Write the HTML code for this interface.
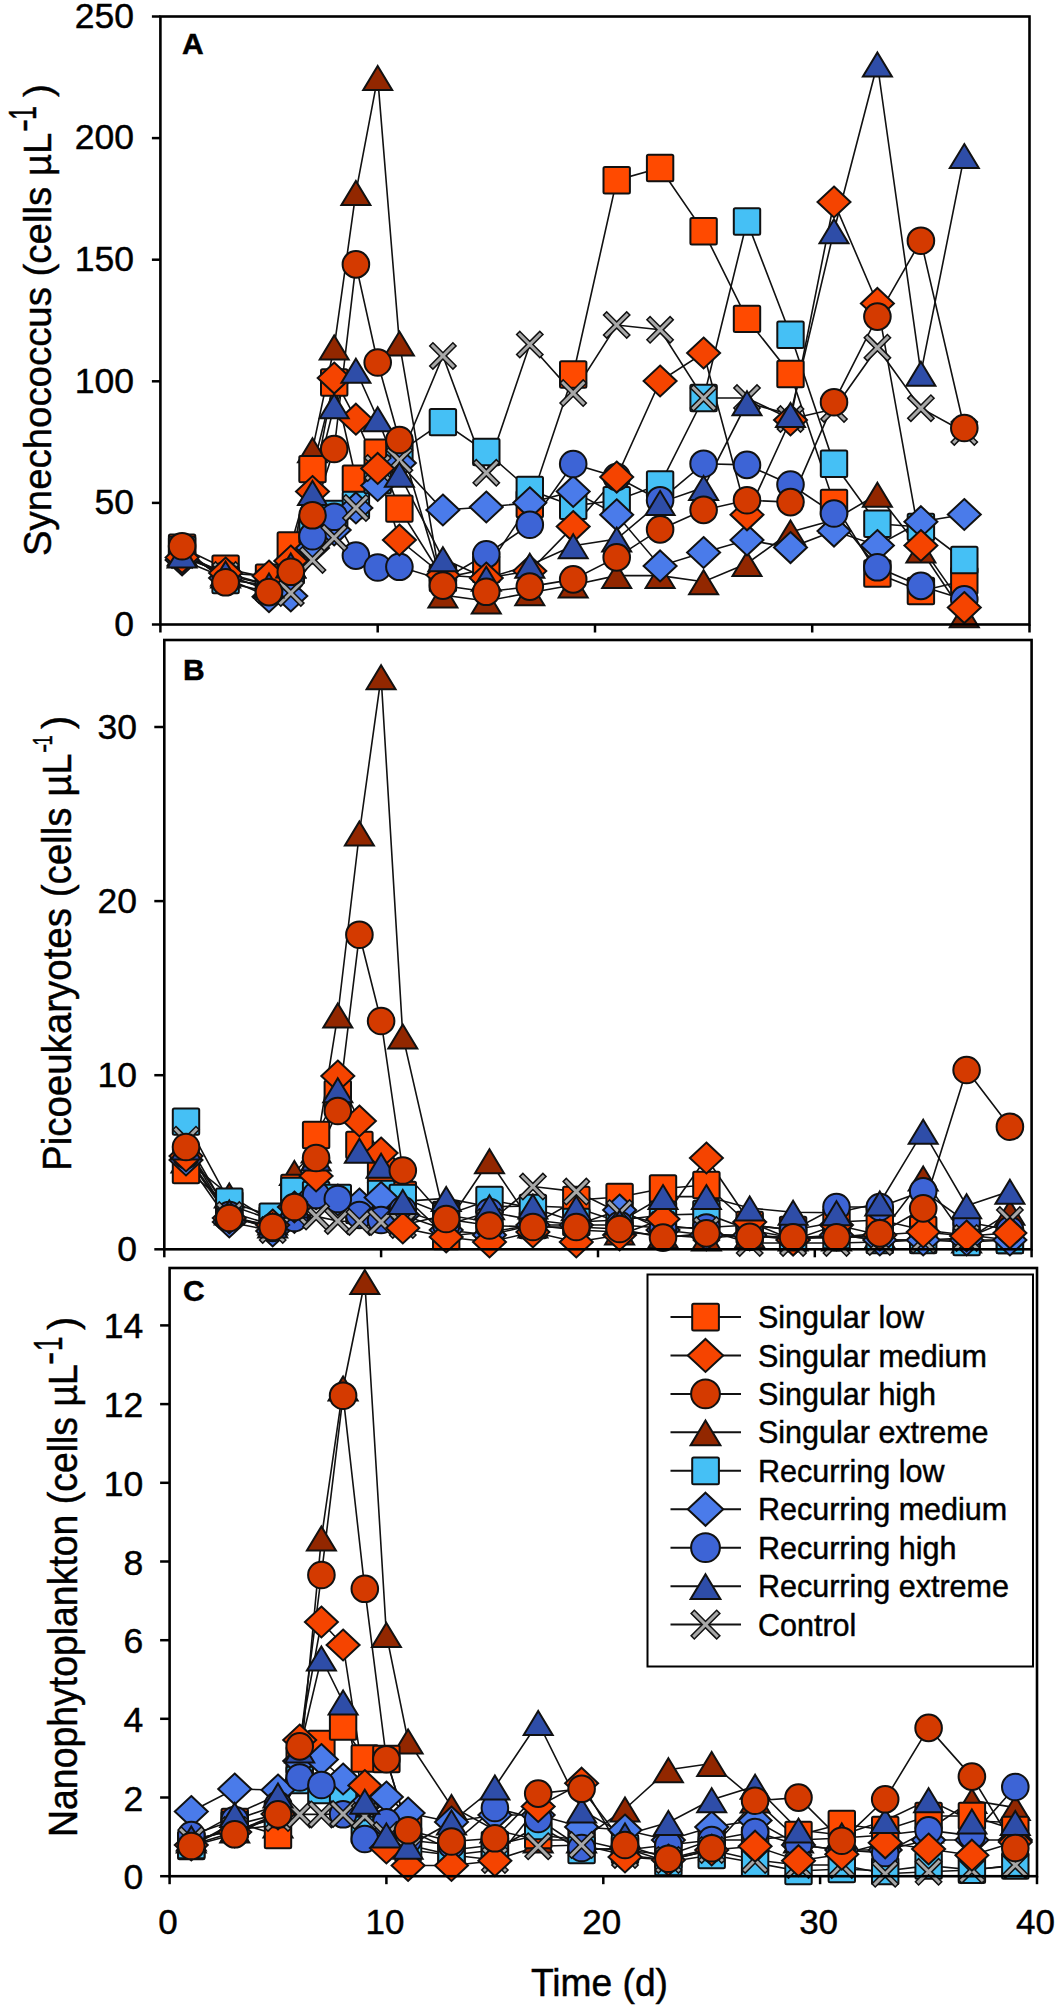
<!DOCTYPE html><html><head><meta charset="utf-8"><style>html,body{margin:0;padding:0;background:#fff;}body{width:1063px;height:2013px;position:relative;overflow:hidden;}</style></head><body><svg width="1063" height="2013" viewBox="0 0 1063 2013" style="position:absolute;left:0;top:0">
<path d="M182.1 553.0 L225.6 575.0 L269.0 585.0 L290.8 565.0 L312.5 449.7 L334.2 347.0 L355.9 192.4 L377.7 77.4 L399.4 343.1 L442.9 595.0 L486.3 601.0 L529.8 592.8 L573.2 585.0 L616.7 575.6 L660.1 575.6 L703.6 581.7 L747.0 563.5 L790.5 532.0 L834.0 520.0 L877.4 494.2 L920.9 550.0 L964.3 614.8" fill="none" stroke="#111" stroke-width="1.6"/>
<path d="M182.1 547.7 L225.6 568.8 L269.0 577.8 L290.8 545.5 L312.5 469.1 L334.2 382.5 L355.9 478.8 L377.7 452.8 L399.4 508.6 L442.9 578.0 L486.3 569.0 L529.8 504.0 L573.2 374.5 L616.7 180.2 L660.1 168.0 L703.6 231.3 L747.0 318.9 L790.5 374.0 L834.0 503.0 L877.4 573.5 L920.9 591.0 L964.3 580.7" fill="none" stroke="#111" stroke-width="1.6"/>
<path d="M182.1 550.0 L225.6 580.0 L269.0 585.0 L290.8 570.0 L312.5 530.0 L334.2 514.0 L355.9 505.0 L377.7 480.0 L399.4 452.0 L442.9 422.1 L486.3 452.0 L529.8 490.0 L573.2 505.9 L616.7 500.2 L660.1 484.4 L703.6 398.0 L747.0 221.5 L790.5 334.7 L834.0 463.8 L877.4 523.8 L920.9 527.0 L964.3 560.0" fill="none" stroke="#111" stroke-width="1.6"/>
<path d="M182.1 560.0 L225.6 578.0 L269.0 596.7 L290.8 595.9 L312.5 548.0 L334.2 530.0 L355.9 507.9 L377.7 485.5 L399.4 463.0 L442.9 510.0 L486.3 507.0 L529.8 502.8 L573.2 491.4 L616.7 514.8 L660.1 565.9 L703.6 552.5 L747.0 540.0 L790.5 547.6 L834.0 531.1 L877.4 545.5 L920.9 521.7 L964.3 514.5" fill="none" stroke="#111" stroke-width="1.6"/>
<path d="M182.1 555.0 L225.6 575.0 L269.0 590.0 L290.8 578.0 L312.5 536.2 L334.2 516.8 L355.9 555.6 L377.7 567.5 L399.4 566.8 L442.9 580.0 L486.3 554.3 L529.8 524.7 L573.2 464.0 L616.7 477.0 L660.1 500.2 L703.6 463.7 L747.0 464.9 L790.5 484.5 L834.0 513.5 L877.4 567.3 L920.9 585.9 L964.3 599.4" fill="none" stroke="#111" stroke-width="1.6"/>
<path d="M182.1 555.0 L225.6 575.0 L269.0 590.0 L290.8 593.0 L312.5 560.0 L334.2 537.7 L355.9 507.9 L377.7 468.0 L399.4 460.2 L442.9 355.9 L486.3 472.8 L529.8 344.5 L573.2 393.1 L616.7 325.0 L660.1 329.8 L703.6 398.0 L747.0 398.0 L790.5 419.0 L834.0 409.0 L877.4 347.7 L920.9 408.2 L964.3 432.0" fill="none" stroke="#111" stroke-width="1.6"/>
<path d="M182.1 557.6 L225.6 573.0 L269.0 576.0 L290.8 561.0 L312.5 491.5 L334.2 378.1 L355.9 419.2 L377.7 468.4 L399.4 540.0 L442.9 575.0 L486.3 578.0 L529.8 571.0 L573.2 526.6 L616.7 477.1 L660.1 381.0 L703.6 353.0 L747.0 514.8 L790.5 420.0 L834.0 202.0 L877.4 303.4 L920.9 545.5 L964.3 607.6" fill="none" stroke="#111" stroke-width="1.6"/>
<path d="M182.1 555.0 L225.6 573.0 L269.0 585.0 L290.8 565.0 L312.5 492.5 L334.2 405.7 L355.9 370.2 L377.7 418.7 L399.4 474.3 L442.9 558.7 L486.3 578.3 L529.8 565.3 L573.2 545.7 L616.7 539.1 L660.1 502.6 L703.6 487.5 L747.0 402.8 L790.5 414.5 L834.0 230.7 L877.4 64.0 L920.9 373.2 L964.3 155.6" fill="none" stroke="#111" stroke-width="1.6"/>
<path d="M182.1 546.2 L225.6 582.3 L269.0 592.1 L290.8 571.8 L312.5 515.3 L334.2 449.0 L355.9 264.4 L377.7 362.5 L399.4 440.0 L442.9 585.6 L486.3 591.8 L529.8 586.6 L573.2 579.4 L616.7 557.4 L660.1 529.4 L703.6 509.9 L747.0 500.2 L790.5 502.1 L834.0 402.2 L877.4 316.6 L920.9 240.7 L964.3 428.0" fill="none" stroke="#111" stroke-width="1.6"/>
<path d="M182.1 541.5L196.6 565.5L167.6 565.5Z" fill="#922700" stroke="#111" stroke-width="2" stroke-linejoin="miter"/>
<path d="M225.6 563.5L240.1 587.5L211.1 587.5Z" fill="#922700" stroke="#111" stroke-width="2" stroke-linejoin="miter"/>
<path d="M269.0 573.5L283.5 597.5L254.5 597.5Z" fill="#922700" stroke="#111" stroke-width="2" stroke-linejoin="miter"/>
<path d="M290.8 553.5L305.3 577.5L276.3 577.5Z" fill="#922700" stroke="#111" stroke-width="2" stroke-linejoin="miter"/>
<path d="M312.5 438.2L327.0 462.2L298.0 462.2Z" fill="#922700" stroke="#111" stroke-width="2" stroke-linejoin="miter"/>
<path d="M334.2 335.5L348.7 359.5L319.7 359.5Z" fill="#922700" stroke="#111" stroke-width="2" stroke-linejoin="miter"/>
<path d="M355.9 180.9L370.4 204.9L341.4 204.9Z" fill="#922700" stroke="#111" stroke-width="2" stroke-linejoin="miter"/>
<path d="M377.7 65.9L392.2 89.9L363.2 89.9Z" fill="#922700" stroke="#111" stroke-width="2" stroke-linejoin="miter"/>
<path d="M399.4 331.6L413.9 355.6L384.9 355.6Z" fill="#922700" stroke="#111" stroke-width="2" stroke-linejoin="miter"/>
<path d="M442.9 583.5L457.4 607.5L428.4 607.5Z" fill="#922700" stroke="#111" stroke-width="2" stroke-linejoin="miter"/>
<path d="M486.3 589.5L500.8 613.5L471.8 613.5Z" fill="#922700" stroke="#111" stroke-width="2" stroke-linejoin="miter"/>
<path d="M529.8 581.3L544.3 605.3L515.3 605.3Z" fill="#922700" stroke="#111" stroke-width="2" stroke-linejoin="miter"/>
<path d="M573.2 573.5L587.7 597.5L558.7 597.5Z" fill="#922700" stroke="#111" stroke-width="2" stroke-linejoin="miter"/>
<path d="M616.7 564.1L631.2 588.1L602.2 588.1Z" fill="#922700" stroke="#111" stroke-width="2" stroke-linejoin="miter"/>
<path d="M660.1 564.1L674.6 588.1L645.6 588.1Z" fill="#922700" stroke="#111" stroke-width="2" stroke-linejoin="miter"/>
<path d="M703.6 570.2L718.1 594.2L689.1 594.2Z" fill="#922700" stroke="#111" stroke-width="2" stroke-linejoin="miter"/>
<path d="M747.0 552.0L761.5 576.0L732.5 576.0Z" fill="#922700" stroke="#111" stroke-width="2" stroke-linejoin="miter"/>
<path d="M790.5 520.5L805.0 544.5L776.0 544.5Z" fill="#922700" stroke="#111" stroke-width="2" stroke-linejoin="miter"/>
<path d="M834.0 508.5L848.5 532.5L819.5 532.5Z" fill="#922700" stroke="#111" stroke-width="2" stroke-linejoin="miter"/>
<path d="M877.4 482.7L891.9 506.7L862.9 506.7Z" fill="#922700" stroke="#111" stroke-width="2" stroke-linejoin="miter"/>
<path d="M920.9 538.5L935.4 562.5L906.4 562.5Z" fill="#922700" stroke="#111" stroke-width="2" stroke-linejoin="miter"/>
<path d="M964.3 603.3L978.8 627.3L949.8 627.3Z" fill="#922700" stroke="#111" stroke-width="2" stroke-linejoin="miter"/>
<rect x="168.9" y="534.5" width="26.4" height="26.4" rx="1.5" fill="#FF4A00" stroke="#111" stroke-width="2"/>
<rect x="212.4" y="555.6" width="26.4" height="26.4" rx="1.5" fill="#FF4A00" stroke="#111" stroke-width="2"/>
<rect x="255.8" y="564.6" width="26.4" height="26.4" rx="1.5" fill="#FF4A00" stroke="#111" stroke-width="2"/>
<rect x="277.6" y="532.3" width="26.4" height="26.4" rx="1.5" fill="#FF4A00" stroke="#111" stroke-width="2"/>
<rect x="299.3" y="455.9" width="26.4" height="26.4" rx="1.5" fill="#FF4A00" stroke="#111" stroke-width="2"/>
<rect x="321.0" y="369.3" width="26.4" height="26.4" rx="1.5" fill="#FF4A00" stroke="#111" stroke-width="2"/>
<rect x="342.7" y="465.6" width="26.4" height="26.4" rx="1.5" fill="#FF4A00" stroke="#111" stroke-width="2"/>
<rect x="364.5" y="439.6" width="26.4" height="26.4" rx="1.5" fill="#FF4A00" stroke="#111" stroke-width="2"/>
<rect x="386.2" y="495.4" width="26.4" height="26.4" rx="1.5" fill="#FF4A00" stroke="#111" stroke-width="2"/>
<rect x="429.7" y="564.8" width="26.4" height="26.4" rx="1.5" fill="#FF4A00" stroke="#111" stroke-width="2"/>
<rect x="473.1" y="555.8" width="26.4" height="26.4" rx="1.5" fill="#FF4A00" stroke="#111" stroke-width="2"/>
<rect x="516.6" y="490.8" width="26.4" height="26.4" rx="1.5" fill="#FF4A00" stroke="#111" stroke-width="2"/>
<rect x="560.0" y="361.3" width="26.4" height="26.4" rx="1.5" fill="#FF4A00" stroke="#111" stroke-width="2"/>
<rect x="603.5" y="167.0" width="26.4" height="26.4" rx="1.5" fill="#FF4A00" stroke="#111" stroke-width="2"/>
<rect x="646.9" y="154.8" width="26.4" height="26.4" rx="1.5" fill="#FF4A00" stroke="#111" stroke-width="2"/>
<rect x="690.4" y="218.1" width="26.4" height="26.4" rx="1.5" fill="#FF4A00" stroke="#111" stroke-width="2"/>
<rect x="733.8" y="305.7" width="26.4" height="26.4" rx="1.5" fill="#FF4A00" stroke="#111" stroke-width="2"/>
<rect x="777.3" y="360.8" width="26.4" height="26.4" rx="1.5" fill="#FF4A00" stroke="#111" stroke-width="2"/>
<rect x="820.8" y="489.8" width="26.4" height="26.4" rx="1.5" fill="#FF4A00" stroke="#111" stroke-width="2"/>
<rect x="864.2" y="560.3" width="26.4" height="26.4" rx="1.5" fill="#FF4A00" stroke="#111" stroke-width="2"/>
<rect x="907.7" y="577.8" width="26.4" height="26.4" rx="1.5" fill="#FF4A00" stroke="#111" stroke-width="2"/>
<rect x="951.1" y="567.5" width="26.4" height="26.4" rx="1.5" fill="#FF4A00" stroke="#111" stroke-width="2"/>
<rect x="168.9" y="536.8" width="26.4" height="26.4" rx="1.5" fill="#45C0F5" stroke="#111" stroke-width="2"/>
<rect x="212.4" y="566.8" width="26.4" height="26.4" rx="1.5" fill="#45C0F5" stroke="#111" stroke-width="2"/>
<rect x="255.8" y="571.8" width="26.4" height="26.4" rx="1.5" fill="#45C0F5" stroke="#111" stroke-width="2"/>
<rect x="277.6" y="556.8" width="26.4" height="26.4" rx="1.5" fill="#45C0F5" stroke="#111" stroke-width="2"/>
<rect x="299.3" y="516.8" width="26.4" height="26.4" rx="1.5" fill="#45C0F5" stroke="#111" stroke-width="2"/>
<rect x="321.0" y="500.8" width="26.4" height="26.4" rx="1.5" fill="#45C0F5" stroke="#111" stroke-width="2"/>
<rect x="342.7" y="491.8" width="26.4" height="26.4" rx="1.5" fill="#45C0F5" stroke="#111" stroke-width="2"/>
<rect x="364.5" y="466.8" width="26.4" height="26.4" rx="1.5" fill="#45C0F5" stroke="#111" stroke-width="2"/>
<rect x="386.2" y="438.8" width="26.4" height="26.4" rx="1.5" fill="#45C0F5" stroke="#111" stroke-width="2"/>
<rect x="429.7" y="408.9" width="26.4" height="26.4" rx="1.5" fill="#45C0F5" stroke="#111" stroke-width="2"/>
<rect x="473.1" y="438.8" width="26.4" height="26.4" rx="1.5" fill="#45C0F5" stroke="#111" stroke-width="2"/>
<rect x="516.6" y="476.8" width="26.4" height="26.4" rx="1.5" fill="#45C0F5" stroke="#111" stroke-width="2"/>
<rect x="560.0" y="492.7" width="26.4" height="26.4" rx="1.5" fill="#45C0F5" stroke="#111" stroke-width="2"/>
<rect x="603.5" y="487.0" width="26.4" height="26.4" rx="1.5" fill="#45C0F5" stroke="#111" stroke-width="2"/>
<rect x="646.9" y="471.2" width="26.4" height="26.4" rx="1.5" fill="#45C0F5" stroke="#111" stroke-width="2"/>
<rect x="690.4" y="384.8" width="26.4" height="26.4" rx="1.5" fill="#45C0F5" stroke="#111" stroke-width="2"/>
<rect x="733.8" y="208.3" width="26.4" height="26.4" rx="1.5" fill="#45C0F5" stroke="#111" stroke-width="2"/>
<rect x="777.3" y="321.5" width="26.4" height="26.4" rx="1.5" fill="#45C0F5" stroke="#111" stroke-width="2"/>
<rect x="820.8" y="450.6" width="26.4" height="26.4" rx="1.5" fill="#45C0F5" stroke="#111" stroke-width="2"/>
<rect x="864.2" y="510.6" width="26.4" height="26.4" rx="1.5" fill="#45C0F5" stroke="#111" stroke-width="2"/>
<rect x="907.7" y="513.8" width="26.4" height="26.4" rx="1.5" fill="#45C0F5" stroke="#111" stroke-width="2"/>
<rect x="951.1" y="546.8" width="26.4" height="26.4" rx="1.5" fill="#45C0F5" stroke="#111" stroke-width="2"/>
<path d="M182.1 544.5L198.6 560.0L182.1 575.5L165.6 560.0Z" fill="#4A7BEA" stroke="#111" stroke-width="2"/>
<path d="M225.6 562.5L242.1 578.0L225.6 593.5L209.1 578.0Z" fill="#4A7BEA" stroke="#111" stroke-width="2"/>
<path d="M269.0 581.2L285.5 596.7L269.0 612.2L252.5 596.7Z" fill="#4A7BEA" stroke="#111" stroke-width="2"/>
<path d="M290.8 580.4L307.3 595.9L290.8 611.4L274.3 595.9Z" fill="#4A7BEA" stroke="#111" stroke-width="2"/>
<path d="M312.5 532.5L329.0 548.0L312.5 563.5L296.0 548.0Z" fill="#4A7BEA" stroke="#111" stroke-width="2"/>
<path d="M334.2 514.5L350.7 530.0L334.2 545.5L317.7 530.0Z" fill="#4A7BEA" stroke="#111" stroke-width="2"/>
<path d="M355.9 492.4L372.4 507.9L355.9 523.4L339.4 507.9Z" fill="#4A7BEA" stroke="#111" stroke-width="2"/>
<path d="M377.7 470.0L394.2 485.5L377.7 501.0L361.2 485.5Z" fill="#4A7BEA" stroke="#111" stroke-width="2"/>
<path d="M399.4 447.5L415.9 463.0L399.4 478.5L382.9 463.0Z" fill="#4A7BEA" stroke="#111" stroke-width="2"/>
<path d="M442.9 494.5L459.4 510.0L442.9 525.5L426.4 510.0Z" fill="#4A7BEA" stroke="#111" stroke-width="2"/>
<path d="M486.3 491.5L502.8 507.0L486.3 522.5L469.8 507.0Z" fill="#4A7BEA" stroke="#111" stroke-width="2"/>
<path d="M529.8 487.3L546.3 502.8L529.8 518.3L513.3 502.8Z" fill="#4A7BEA" stroke="#111" stroke-width="2"/>
<path d="M573.2 475.9L589.7 491.4L573.2 506.9L556.7 491.4Z" fill="#4A7BEA" stroke="#111" stroke-width="2"/>
<path d="M616.7 499.3L633.2 514.8L616.7 530.3L600.2 514.8Z" fill="#4A7BEA" stroke="#111" stroke-width="2"/>
<path d="M660.1 550.4L676.6 565.9L660.1 581.4L643.6 565.9Z" fill="#4A7BEA" stroke="#111" stroke-width="2"/>
<path d="M703.6 537.0L720.1 552.5L703.6 568.0L687.1 552.5Z" fill="#4A7BEA" stroke="#111" stroke-width="2"/>
<path d="M747.0 524.5L763.5 540.0L747.0 555.5L730.5 540.0Z" fill="#4A7BEA" stroke="#111" stroke-width="2"/>
<path d="M790.5 532.1L807.0 547.6L790.5 563.1L774.0 547.6Z" fill="#4A7BEA" stroke="#111" stroke-width="2"/>
<path d="M834.0 515.6L850.5 531.1L834.0 546.6L817.5 531.1Z" fill="#4A7BEA" stroke="#111" stroke-width="2"/>
<path d="M877.4 530.0L893.9 545.5L877.4 561.0L860.9 545.5Z" fill="#4A7BEA" stroke="#111" stroke-width="2"/>
<path d="M920.9 506.2L937.4 521.7L920.9 537.2L904.4 521.7Z" fill="#4A7BEA" stroke="#111" stroke-width="2"/>
<path d="M964.3 499.0L980.8 514.5L964.3 530.0L947.8 514.5Z" fill="#4A7BEA" stroke="#111" stroke-width="2"/>
<circle cx="182.1" cy="555.0" r="13.3" fill="#3D64D6" stroke="#111" stroke-width="2"/>
<circle cx="225.6" cy="575.0" r="13.3" fill="#3D64D6" stroke="#111" stroke-width="2"/>
<circle cx="269.0" cy="590.0" r="13.3" fill="#3D64D6" stroke="#111" stroke-width="2"/>
<circle cx="290.8" cy="578.0" r="13.3" fill="#3D64D6" stroke="#111" stroke-width="2"/>
<circle cx="312.5" cy="536.2" r="13.3" fill="#3D64D6" stroke="#111" stroke-width="2"/>
<circle cx="334.2" cy="516.8" r="13.3" fill="#3D64D6" stroke="#111" stroke-width="2"/>
<circle cx="355.9" cy="555.6" r="13.3" fill="#3D64D6" stroke="#111" stroke-width="2"/>
<circle cx="377.7" cy="567.5" r="13.3" fill="#3D64D6" stroke="#111" stroke-width="2"/>
<circle cx="399.4" cy="566.8" r="13.3" fill="#3D64D6" stroke="#111" stroke-width="2"/>
<circle cx="442.9" cy="580.0" r="13.3" fill="#3D64D6" stroke="#111" stroke-width="2"/>
<circle cx="486.3" cy="554.3" r="13.3" fill="#3D64D6" stroke="#111" stroke-width="2"/>
<circle cx="529.8" cy="524.7" r="13.3" fill="#3D64D6" stroke="#111" stroke-width="2"/>
<circle cx="573.2" cy="464.0" r="13.3" fill="#3D64D6" stroke="#111" stroke-width="2"/>
<circle cx="616.7" cy="477.0" r="13.3" fill="#3D64D6" stroke="#111" stroke-width="2"/>
<circle cx="660.1" cy="500.2" r="13.3" fill="#3D64D6" stroke="#111" stroke-width="2"/>
<circle cx="703.6" cy="463.7" r="13.3" fill="#3D64D6" stroke="#111" stroke-width="2"/>
<circle cx="747.0" cy="464.9" r="13.3" fill="#3D64D6" stroke="#111" stroke-width="2"/>
<circle cx="790.5" cy="484.5" r="13.3" fill="#3D64D6" stroke="#111" stroke-width="2"/>
<circle cx="834.0" cy="513.5" r="13.3" fill="#3D64D6" stroke="#111" stroke-width="2"/>
<circle cx="877.4" cy="567.3" r="13.3" fill="#3D64D6" stroke="#111" stroke-width="2"/>
<circle cx="920.9" cy="585.9" r="13.3" fill="#3D64D6" stroke="#111" stroke-width="2"/>
<circle cx="964.3" cy="599.4" r="13.3" fill="#3D64D6" stroke="#111" stroke-width="2"/>
<path d="M172.1 545.0L192.1 565.0M192.1 545.0L172.1 565.0" stroke="#111" stroke-width="6" stroke-linecap="square"/><path d="M172.1 545.0L192.1 565.0M192.1 545.0L172.1 565.0" stroke="#A8A8A8" stroke-width="3" stroke-linecap="square"/>
<path d="M215.6 565.0L235.6 585.0M235.6 565.0L215.6 585.0" stroke="#111" stroke-width="6" stroke-linecap="square"/><path d="M215.6 565.0L235.6 585.0M235.6 565.0L215.6 585.0" stroke="#A8A8A8" stroke-width="3" stroke-linecap="square"/>
<path d="M259.0 580.0L279.0 600.0M279.0 580.0L259.0 600.0" stroke="#111" stroke-width="6" stroke-linecap="square"/><path d="M259.0 580.0L279.0 600.0M279.0 580.0L259.0 600.0" stroke="#A8A8A8" stroke-width="3" stroke-linecap="square"/>
<path d="M280.8 583.0L300.8 603.0M300.8 583.0L280.8 603.0" stroke="#111" stroke-width="6" stroke-linecap="square"/><path d="M280.8 583.0L300.8 603.0M300.8 583.0L280.8 603.0" stroke="#A8A8A8" stroke-width="3" stroke-linecap="square"/>
<path d="M302.5 550.0L322.5 570.0M322.5 550.0L302.5 570.0" stroke="#111" stroke-width="6" stroke-linecap="square"/><path d="M302.5 550.0L322.5 570.0M322.5 550.0L302.5 570.0" stroke="#A8A8A8" stroke-width="3" stroke-linecap="square"/>
<path d="M324.2 527.7L344.2 547.7M344.2 527.7L324.2 547.7" stroke="#111" stroke-width="6" stroke-linecap="square"/><path d="M324.2 527.7L344.2 547.7M344.2 527.7L324.2 547.7" stroke="#A8A8A8" stroke-width="3" stroke-linecap="square"/>
<path d="M345.9 497.9L365.9 517.9M365.9 497.9L345.9 517.9" stroke="#111" stroke-width="6" stroke-linecap="square"/><path d="M345.9 497.9L365.9 517.9M365.9 497.9L345.9 517.9" stroke="#A8A8A8" stroke-width="3" stroke-linecap="square"/>
<path d="M367.7 458.0L387.7 478.0M387.7 458.0L367.7 478.0" stroke="#111" stroke-width="6" stroke-linecap="square"/><path d="M367.7 458.0L387.7 478.0M387.7 458.0L367.7 478.0" stroke="#A8A8A8" stroke-width="3" stroke-linecap="square"/>
<path d="M389.4 450.2L409.4 470.2M409.4 450.2L389.4 470.2" stroke="#111" stroke-width="6" stroke-linecap="square"/><path d="M389.4 450.2L409.4 470.2M409.4 450.2L389.4 470.2" stroke="#A8A8A8" stroke-width="3" stroke-linecap="square"/>
<path d="M432.9 345.9L452.9 365.9M452.9 345.9L432.9 365.9" stroke="#111" stroke-width="6" stroke-linecap="square"/><path d="M432.9 345.9L452.9 365.9M452.9 345.9L432.9 365.9" stroke="#A8A8A8" stroke-width="3" stroke-linecap="square"/>
<path d="M476.3 462.8L496.3 482.8M496.3 462.8L476.3 482.8" stroke="#111" stroke-width="6" stroke-linecap="square"/><path d="M476.3 462.8L496.3 482.8M496.3 462.8L476.3 482.8" stroke="#A8A8A8" stroke-width="3" stroke-linecap="square"/>
<path d="M519.8 334.5L539.8 354.5M539.8 334.5L519.8 354.5" stroke="#111" stroke-width="6" stroke-linecap="square"/><path d="M519.8 334.5L539.8 354.5M539.8 334.5L519.8 354.5" stroke="#A8A8A8" stroke-width="3" stroke-linecap="square"/>
<path d="M563.2 383.1L583.2 403.1M583.2 383.1L563.2 403.1" stroke="#111" stroke-width="6" stroke-linecap="square"/><path d="M563.2 383.1L583.2 403.1M583.2 383.1L563.2 403.1" stroke="#A8A8A8" stroke-width="3" stroke-linecap="square"/>
<path d="M606.7 315.0L626.7 335.0M626.7 315.0L606.7 335.0" stroke="#111" stroke-width="6" stroke-linecap="square"/><path d="M606.7 315.0L626.7 335.0M626.7 315.0L606.7 335.0" stroke="#A8A8A8" stroke-width="3" stroke-linecap="square"/>
<path d="M650.1 319.8L670.1 339.8M670.1 319.8L650.1 339.8" stroke="#111" stroke-width="6" stroke-linecap="square"/><path d="M650.1 319.8L670.1 339.8M670.1 319.8L650.1 339.8" stroke="#A8A8A8" stroke-width="3" stroke-linecap="square"/>
<path d="M693.6 388.0L713.6 408.0M713.6 388.0L693.6 408.0" stroke="#111" stroke-width="6" stroke-linecap="square"/><path d="M693.6 388.0L713.6 408.0M713.6 388.0L693.6 408.0" stroke="#A8A8A8" stroke-width="3" stroke-linecap="square"/>
<path d="M737.0 388.0L757.0 408.0M757.0 388.0L737.0 408.0" stroke="#111" stroke-width="6" stroke-linecap="square"/><path d="M737.0 388.0L757.0 408.0M757.0 388.0L737.0 408.0" stroke="#A8A8A8" stroke-width="3" stroke-linecap="square"/>
<path d="M780.5 409.0L800.5 429.0M800.5 409.0L780.5 429.0" stroke="#111" stroke-width="6" stroke-linecap="square"/><path d="M780.5 409.0L800.5 429.0M800.5 409.0L780.5 429.0" stroke="#A8A8A8" stroke-width="3" stroke-linecap="square"/>
<path d="M824.0 399.0L844.0 419.0M844.0 399.0L824.0 419.0" stroke="#111" stroke-width="6" stroke-linecap="square"/><path d="M824.0 399.0L844.0 419.0M844.0 399.0L824.0 419.0" stroke="#A8A8A8" stroke-width="3" stroke-linecap="square"/>
<path d="M867.4 337.7L887.4 357.7M887.4 337.7L867.4 357.7" stroke="#111" stroke-width="6" stroke-linecap="square"/><path d="M867.4 337.7L887.4 357.7M887.4 337.7L867.4 357.7" stroke="#A8A8A8" stroke-width="3" stroke-linecap="square"/>
<path d="M910.9 398.2L930.9 418.2M930.9 398.2L910.9 418.2" stroke="#111" stroke-width="6" stroke-linecap="square"/><path d="M910.9 398.2L930.9 418.2M930.9 398.2L910.9 418.2" stroke="#A8A8A8" stroke-width="3" stroke-linecap="square"/>
<path d="M954.3 422.0L974.3 442.0M974.3 422.0L954.3 442.0" stroke="#111" stroke-width="6" stroke-linecap="square"/><path d="M954.3 422.0L974.3 442.0M974.3 422.0L954.3 442.0" stroke="#A8A8A8" stroke-width="3" stroke-linecap="square"/>
<path d="M182.1 542.1L198.6 557.6L182.1 573.1L165.6 557.6Z" fill="#F54400" stroke="#111" stroke-width="2"/>
<path d="M225.6 557.5L242.1 573.0L225.6 588.5L209.1 573.0Z" fill="#F54400" stroke="#111" stroke-width="2"/>
<path d="M269.0 560.5L285.5 576.0L269.0 591.5L252.5 576.0Z" fill="#F54400" stroke="#111" stroke-width="2"/>
<path d="M290.8 545.5L307.3 561.0L290.8 576.5L274.3 561.0Z" fill="#F54400" stroke="#111" stroke-width="2"/>
<path d="M312.5 476.0L329.0 491.5L312.5 507.0L296.0 491.5Z" fill="#F54400" stroke="#111" stroke-width="2"/>
<path d="M334.2 362.6L350.7 378.1L334.2 393.6L317.7 378.1Z" fill="#F54400" stroke="#111" stroke-width="2"/>
<path d="M355.9 403.7L372.4 419.2L355.9 434.7L339.4 419.2Z" fill="#F54400" stroke="#111" stroke-width="2"/>
<path d="M377.7 452.9L394.2 468.4L377.7 483.9L361.2 468.4Z" fill="#F54400" stroke="#111" stroke-width="2"/>
<path d="M399.4 524.5L415.9 540.0L399.4 555.5L382.9 540.0Z" fill="#F54400" stroke="#111" stroke-width="2"/>
<path d="M442.9 559.5L459.4 575.0L442.9 590.5L426.4 575.0Z" fill="#F54400" stroke="#111" stroke-width="2"/>
<path d="M486.3 562.5L502.8 578.0L486.3 593.5L469.8 578.0Z" fill="#F54400" stroke="#111" stroke-width="2"/>
<path d="M529.8 555.5L546.3 571.0L529.8 586.5L513.3 571.0Z" fill="#F54400" stroke="#111" stroke-width="2"/>
<path d="M573.2 511.1L589.7 526.6L573.2 542.1L556.7 526.6Z" fill="#F54400" stroke="#111" stroke-width="2"/>
<path d="M616.7 461.6L633.2 477.1L616.7 492.6L600.2 477.1Z" fill="#F54400" stroke="#111" stroke-width="2"/>
<path d="M660.1 365.5L676.6 381.0L660.1 396.5L643.6 381.0Z" fill="#F54400" stroke="#111" stroke-width="2"/>
<path d="M703.6 337.5L720.1 353.0L703.6 368.5L687.1 353.0Z" fill="#F54400" stroke="#111" stroke-width="2"/>
<path d="M747.0 499.3L763.5 514.8L747.0 530.3L730.5 514.8Z" fill="#F54400" stroke="#111" stroke-width="2"/>
<path d="M790.5 404.5L807.0 420.0L790.5 435.5L774.0 420.0Z" fill="#F54400" stroke="#111" stroke-width="2"/>
<path d="M834.0 186.5L850.5 202.0L834.0 217.5L817.5 202.0Z" fill="#F54400" stroke="#111" stroke-width="2"/>
<path d="M877.4 287.9L893.9 303.4L877.4 318.9L860.9 303.4Z" fill="#F54400" stroke="#111" stroke-width="2"/>
<path d="M920.9 530.0L937.4 545.5L920.9 561.0L904.4 545.5Z" fill="#F54400" stroke="#111" stroke-width="2"/>
<path d="M964.3 592.1L980.8 607.6L964.3 623.1L947.8 607.6Z" fill="#F54400" stroke="#111" stroke-width="2"/>
<path d="M182.1 543.5L196.6 567.5L167.6 567.5Z" fill="#2E4DA8" stroke="#111" stroke-width="2" stroke-linejoin="miter"/>
<path d="M225.6 561.5L240.1 585.5L211.1 585.5Z" fill="#2E4DA8" stroke="#111" stroke-width="2" stroke-linejoin="miter"/>
<path d="M269.0 573.5L283.5 597.5L254.5 597.5Z" fill="#2E4DA8" stroke="#111" stroke-width="2" stroke-linejoin="miter"/>
<path d="M290.8 553.5L305.3 577.5L276.3 577.5Z" fill="#2E4DA8" stroke="#111" stroke-width="2" stroke-linejoin="miter"/>
<path d="M312.5 481.0L327.0 505.0L298.0 505.0Z" fill="#2E4DA8" stroke="#111" stroke-width="2" stroke-linejoin="miter"/>
<path d="M334.2 394.2L348.7 418.2L319.7 418.2Z" fill="#2E4DA8" stroke="#111" stroke-width="2" stroke-linejoin="miter"/>
<path d="M355.9 358.7L370.4 382.7L341.4 382.7Z" fill="#2E4DA8" stroke="#111" stroke-width="2" stroke-linejoin="miter"/>
<path d="M377.7 407.2L392.2 431.2L363.2 431.2Z" fill="#2E4DA8" stroke="#111" stroke-width="2" stroke-linejoin="miter"/>
<path d="M399.4 462.8L413.9 486.8L384.9 486.8Z" fill="#2E4DA8" stroke="#111" stroke-width="2" stroke-linejoin="miter"/>
<path d="M442.9 547.2L457.4 571.2L428.4 571.2Z" fill="#2E4DA8" stroke="#111" stroke-width="2" stroke-linejoin="miter"/>
<path d="M486.3 566.8L500.8 590.8L471.8 590.8Z" fill="#2E4DA8" stroke="#111" stroke-width="2" stroke-linejoin="miter"/>
<path d="M529.8 553.8L544.3 577.8L515.3 577.8Z" fill="#2E4DA8" stroke="#111" stroke-width="2" stroke-linejoin="miter"/>
<path d="M573.2 534.2L587.7 558.2L558.7 558.2Z" fill="#2E4DA8" stroke="#111" stroke-width="2" stroke-linejoin="miter"/>
<path d="M616.7 527.6L631.2 551.6L602.2 551.6Z" fill="#2E4DA8" stroke="#111" stroke-width="2" stroke-linejoin="miter"/>
<path d="M660.1 491.1L674.6 515.1L645.6 515.1Z" fill="#2E4DA8" stroke="#111" stroke-width="2" stroke-linejoin="miter"/>
<path d="M703.6 476.0L718.1 500.0L689.1 500.0Z" fill="#2E4DA8" stroke="#111" stroke-width="2" stroke-linejoin="miter"/>
<path d="M747.0 391.3L761.5 415.3L732.5 415.3Z" fill="#2E4DA8" stroke="#111" stroke-width="2" stroke-linejoin="miter"/>
<path d="M790.5 403.0L805.0 427.0L776.0 427.0Z" fill="#2E4DA8" stroke="#111" stroke-width="2" stroke-linejoin="miter"/>
<path d="M834.0 219.2L848.5 243.2L819.5 243.2Z" fill="#2E4DA8" stroke="#111" stroke-width="2" stroke-linejoin="miter"/>
<path d="M877.4 52.5L891.9 76.5L862.9 76.5Z" fill="#2E4DA8" stroke="#111" stroke-width="2" stroke-linejoin="miter"/>
<path d="M920.9 361.7L935.4 385.7L906.4 385.7Z" fill="#2E4DA8" stroke="#111" stroke-width="2" stroke-linejoin="miter"/>
<path d="M964.3 144.1L978.8 168.1L949.8 168.1Z" fill="#2E4DA8" stroke="#111" stroke-width="2" stroke-linejoin="miter"/>
<circle cx="182.1" cy="546.2" r="13.3" fill="#D43A00" stroke="#111" stroke-width="2"/>
<circle cx="225.6" cy="582.3" r="13.3" fill="#D43A00" stroke="#111" stroke-width="2"/>
<circle cx="269.0" cy="592.1" r="13.3" fill="#D43A00" stroke="#111" stroke-width="2"/>
<circle cx="290.8" cy="571.8" r="13.3" fill="#D43A00" stroke="#111" stroke-width="2"/>
<circle cx="312.5" cy="515.3" r="13.3" fill="#D43A00" stroke="#111" stroke-width="2"/>
<circle cx="334.2" cy="449.0" r="13.3" fill="#D43A00" stroke="#111" stroke-width="2"/>
<circle cx="355.9" cy="264.4" r="13.3" fill="#D43A00" stroke="#111" stroke-width="2"/>
<circle cx="377.7" cy="362.5" r="13.3" fill="#D43A00" stroke="#111" stroke-width="2"/>
<circle cx="399.4" cy="440.0" r="13.3" fill="#D43A00" stroke="#111" stroke-width="2"/>
<circle cx="442.9" cy="585.6" r="13.3" fill="#D43A00" stroke="#111" stroke-width="2"/>
<circle cx="486.3" cy="591.8" r="13.3" fill="#D43A00" stroke="#111" stroke-width="2"/>
<circle cx="529.8" cy="586.6" r="13.3" fill="#D43A00" stroke="#111" stroke-width="2"/>
<circle cx="573.2" cy="579.4" r="13.3" fill="#D43A00" stroke="#111" stroke-width="2"/>
<circle cx="616.7" cy="557.4" r="13.3" fill="#D43A00" stroke="#111" stroke-width="2"/>
<circle cx="660.1" cy="529.4" r="13.3" fill="#D43A00" stroke="#111" stroke-width="2"/>
<circle cx="703.6" cy="509.9" r="13.3" fill="#D43A00" stroke="#111" stroke-width="2"/>
<circle cx="747.0" cy="500.2" r="13.3" fill="#D43A00" stroke="#111" stroke-width="2"/>
<circle cx="790.5" cy="502.1" r="13.3" fill="#D43A00" stroke="#111" stroke-width="2"/>
<circle cx="834.0" cy="402.2" r="13.3" fill="#D43A00" stroke="#111" stroke-width="2"/>
<circle cx="877.4" cy="316.6" r="13.3" fill="#D43A00" stroke="#111" stroke-width="2"/>
<circle cx="920.9" cy="240.7" r="13.3" fill="#D43A00" stroke="#111" stroke-width="2"/>
<circle cx="964.3" cy="428.0" r="13.3" fill="#D43A00" stroke="#111" stroke-width="2"/>
<rect x="160.4" y="16.5" width="869.1" height="608.0" fill="none" stroke="#000" stroke-width="2.6"/>
<line x1="151.9" y1="624.5" x2="160.4" y2="624.5" stroke="#000" stroke-width="2.5"/>
<text x="134" y="635.8" font-family="Liberation Sans, sans-serif" stroke="#000" stroke-width="0.45" font-size="35.5" text-anchor="end">0</text>
<line x1="151.9" y1="502.9" x2="160.4" y2="502.9" stroke="#000" stroke-width="2.5"/>
<text x="134" y="514.2" font-family="Liberation Sans, sans-serif" stroke="#000" stroke-width="0.45" font-size="35.5" text-anchor="end">50</text>
<line x1="151.9" y1="381.3" x2="160.4" y2="381.3" stroke="#000" stroke-width="2.5"/>
<text x="134" y="392.6" font-family="Liberation Sans, sans-serif" stroke="#000" stroke-width="0.45" font-size="35.5" text-anchor="end">100</text>
<line x1="151.9" y1="259.7" x2="160.4" y2="259.7" stroke="#000" stroke-width="2.5"/>
<text x="134" y="271.0" font-family="Liberation Sans, sans-serif" stroke="#000" stroke-width="0.45" font-size="35.5" text-anchor="end">150</text>
<line x1="151.9" y1="138.1" x2="160.4" y2="138.1" stroke="#000" stroke-width="2.5"/>
<text x="134" y="149.4" font-family="Liberation Sans, sans-serif" stroke="#000" stroke-width="0.45" font-size="35.5" text-anchor="end">200</text>
<line x1="151.9" y1="16.5" x2="160.4" y2="16.5" stroke="#000" stroke-width="2.5"/>
<text x="134" y="27.8" font-family="Liberation Sans, sans-serif" stroke="#000" stroke-width="0.45" font-size="35.5" text-anchor="end">250</text>
<line x1="160.4" y1="624.5" x2="160.4" y2="632.5" stroke="#000" stroke-width="2.5"/>
<line x1="377.7" y1="624.5" x2="377.7" y2="632.5" stroke="#000" stroke-width="2.5"/>
<line x1="595.0" y1="624.5" x2="595.0" y2="632.5" stroke="#000" stroke-width="2.5"/>
<line x1="812.2" y1="624.5" x2="812.2" y2="632.5" stroke="#000" stroke-width="2.5"/>
<line x1="1029.5" y1="624.5" x2="1029.5" y2="632.5" stroke="#000" stroke-width="2.5"/>
<text x="182" y="53.5" font-family="Liberation Sans, sans-serif" stroke="#000" stroke-width="0.45" font-size="30" font-weight="bold">A</text>
<text transform="translate(50.5,556) rotate(-90) scale(0.985,1)" font-family="Liberation Sans, sans-serif" stroke="#000" stroke-width="0.45" font-size="39" text-anchor="start">Synechococcus (cells µL</text>
<text transform="translate(36,132) rotate(-90) scale(1,1)" font-family="Liberation Sans, sans-serif" stroke="#000" stroke-width="0.45" font-size="39" text-anchor="start">-</text>
<text transform="translate(36,120) rotate(-90) scale(0.65,1)" font-family="Liberation Sans, sans-serif" stroke="#000" stroke-width="0.45" font-size="39" text-anchor="start">1</text>
<text transform="translate(50.5,97) rotate(-90) scale(1,1)" font-family="Liberation Sans, sans-serif" stroke="#000" stroke-width="0.45" font-size="39" text-anchor="start">)</text>
<path d="M186.0 1160.0 L229.3 1195.0 L272.7 1222.0 L294.4 1172.5 L316.1 1150.0 L337.8 1015.0 L359.4 833.0 L381.1 676.8 L402.8 1036.0 L446.2 1225.0 L489.5 1160.8 L532.9 1225.0 L576.3 1230.0 L619.6 1232.0 L663.0 1235.0 L706.4 1238.0 L749.7 1235.0 L793.1 1238.0 L836.5 1238.0 L879.8 1235.0 L923.2 1178.0 L966.6 1240.0 L1009.9 1212.3" fill="none" stroke="#111" stroke-width="1.6"/>
<path d="M186.0 1170.0 L229.3 1205.0 L272.7 1220.0 L294.4 1188.0 L316.1 1135.0 L337.8 1094.0 L359.4 1145.0 L381.1 1171.0 L402.8 1195.0 L446.2 1236.0 L489.5 1232.0 L532.9 1225.0 L576.3 1200.0 L619.6 1197.0 L663.0 1188.5 L706.4 1185.0 L749.7 1225.0 L793.1 1230.0 L836.5 1222.0 L879.8 1220.0 L923.2 1230.0 L966.6 1235.0 L1009.9 1240.0" fill="none" stroke="#111" stroke-width="1.6"/>
<path d="M186.0 1121.6 L229.3 1201.6 L272.7 1216.6 L294.4 1191.0 L316.1 1195.0 L337.8 1198.0 L359.4 1210.0 L381.1 1194.0 L402.8 1198.0 L446.2 1215.0 L489.5 1200.0 L532.9 1208.0 L576.3 1222.0 L619.6 1220.0 L663.0 1215.0 L706.4 1213.9 L749.7 1230.0 L793.1 1238.0 L836.5 1235.0 L879.8 1240.0 L923.2 1240.0 L966.6 1242.0 L1009.9 1240.0" fill="none" stroke="#111" stroke-width="1.6"/>
<path d="M186.0 1160.0 L229.3 1222.0 L272.7 1231.0 L294.4 1217.5 L316.1 1193.9 L337.8 1200.0 L359.4 1204.0 L381.1 1197.6 L402.8 1215.0 L446.2 1230.0 L489.5 1235.0 L532.9 1225.0 L576.3 1225.0 L619.6 1210.0 L663.0 1230.0 L706.4 1235.0 L749.7 1235.0 L793.1 1240.0 L836.5 1235.0 L879.8 1240.0 L923.2 1240.0 L966.6 1240.0 L1009.9 1240.0" fill="none" stroke="#111" stroke-width="1.6"/>
<path d="M186.0 1155.0 L229.3 1215.0 L272.7 1228.0 L294.4 1218.0 L316.1 1195.0 L337.8 1199.0 L359.4 1215.0 L381.1 1220.0 L402.8 1210.0 L446.2 1225.0 L489.5 1212.0 L532.9 1220.0 L576.3 1225.0 L619.6 1225.0 L663.0 1228.0 L706.4 1227.5 L749.7 1225.0 L793.1 1230.0 L836.5 1207.0 L879.8 1207.0 L923.2 1191.2 L966.6 1222.0 L1009.9 1230.0" fill="none" stroke="#111" stroke-width="1.6"/>
<path d="M186.0 1139.7 L229.3 1215.0 L272.7 1230.0 L294.4 1212.0 L316.1 1216.4 L337.8 1221.0 L359.4 1222.0 L381.1 1222.0 L402.8 1225.0 L446.2 1215.0 L489.5 1222.0 L532.9 1186.5 L576.3 1191.6 L619.6 1213.0 L663.0 1225.0 L706.4 1230.0 L749.7 1243.0 L793.1 1243.0 L836.5 1243.0 L879.8 1242.0 L923.2 1240.0 L966.6 1238.0 L1009.9 1220.0" fill="none" stroke="#111" stroke-width="1.6"/>
<path d="M186.0 1156.0 L229.3 1218.0 L272.7 1225.0 L294.4 1207.0 L316.1 1176.0 L337.8 1076.0 L359.4 1121.0 L381.1 1153.0 L402.8 1228.0 L446.2 1237.0 L489.5 1242.0 L532.9 1232.0 L576.3 1242.0 L619.6 1235.0 L663.0 1219.0 L706.4 1158.0 L749.7 1222.0 L793.1 1240.0 L836.5 1225.0 L879.8 1235.0 L923.2 1232.0 L966.6 1236.0 L1009.9 1233.0" fill="none" stroke="#111" stroke-width="1.6"/>
<path d="M186.0 1147.0 L229.3 1212.0 L272.7 1225.0 L294.4 1205.0 L316.1 1158.0 L337.8 1089.8 L359.4 1150.3 L381.1 1165.3 L402.8 1201.4 L446.2 1198.4 L489.5 1206.8 L532.9 1206.0 L576.3 1207.7 L619.6 1222.0 L663.0 1196.6 L706.4 1196.6 L749.7 1208.0 L793.1 1212.3 L836.5 1212.8 L879.8 1203.0 L923.2 1131.2 L966.6 1205.7 L1009.9 1191.2" fill="none" stroke="#111" stroke-width="1.6"/>
<path d="M186.0 1147.0 L229.3 1218.0 L272.7 1227.0 L294.4 1207.0 L316.1 1158.0 L337.8 1111.0 L359.4 934.7 L381.1 1021.0 L402.8 1170.5 L446.2 1219.0 L489.5 1225.5 L532.9 1227.0 L576.3 1227.0 L619.6 1229.0 L663.0 1237.6 L706.4 1233.4 L749.7 1236.8 L793.1 1237.3 L836.5 1237.3 L879.8 1233.4 L923.2 1208.4 L966.6 1070.0 L1009.9 1126.7" fill="none" stroke="#111" stroke-width="1.6"/>
<path d="M186.0 1148.5L200.5 1172.5L171.5 1172.5Z" fill="#922700" stroke="#111" stroke-width="2" stroke-linejoin="miter"/>
<path d="M229.3 1183.5L243.8 1207.5L214.8 1207.5Z" fill="#922700" stroke="#111" stroke-width="2" stroke-linejoin="miter"/>
<path d="M272.7 1210.5L287.2 1234.5L258.2 1234.5Z" fill="#922700" stroke="#111" stroke-width="2" stroke-linejoin="miter"/>
<path d="M294.4 1161.0L308.9 1185.0L279.9 1185.0Z" fill="#922700" stroke="#111" stroke-width="2" stroke-linejoin="miter"/>
<path d="M316.1 1138.5L330.6 1162.5L301.6 1162.5Z" fill="#922700" stroke="#111" stroke-width="2" stroke-linejoin="miter"/>
<path d="M337.8 1003.5L352.3 1027.5L323.3 1027.5Z" fill="#922700" stroke="#111" stroke-width="2" stroke-linejoin="miter"/>
<path d="M359.4 821.5L373.9 845.5L344.9 845.5Z" fill="#922700" stroke="#111" stroke-width="2" stroke-linejoin="miter"/>
<path d="M381.1 665.3L395.6 689.3L366.6 689.3Z" fill="#922700" stroke="#111" stroke-width="2" stroke-linejoin="miter"/>
<path d="M402.8 1024.5L417.3 1048.5L388.3 1048.5Z" fill="#922700" stroke="#111" stroke-width="2" stroke-linejoin="miter"/>
<path d="M446.2 1213.5L460.7 1237.5L431.7 1237.5Z" fill="#922700" stroke="#111" stroke-width="2" stroke-linejoin="miter"/>
<path d="M489.5 1149.3L504.0 1173.3L475.0 1173.3Z" fill="#922700" stroke="#111" stroke-width="2" stroke-linejoin="miter"/>
<path d="M532.9 1213.5L547.4 1237.5L518.4 1237.5Z" fill="#922700" stroke="#111" stroke-width="2" stroke-linejoin="miter"/>
<path d="M576.3 1218.5L590.8 1242.5L561.8 1242.5Z" fill="#922700" stroke="#111" stroke-width="2" stroke-linejoin="miter"/>
<path d="M619.6 1220.5L634.1 1244.5L605.1 1244.5Z" fill="#922700" stroke="#111" stroke-width="2" stroke-linejoin="miter"/>
<path d="M663.0 1223.5L677.5 1247.5L648.5 1247.5Z" fill="#922700" stroke="#111" stroke-width="2" stroke-linejoin="miter"/>
<path d="M706.4 1226.5L720.9 1250.5L691.9 1250.5Z" fill="#922700" stroke="#111" stroke-width="2" stroke-linejoin="miter"/>
<path d="M749.7 1223.5L764.2 1247.5L735.2 1247.5Z" fill="#922700" stroke="#111" stroke-width="2" stroke-linejoin="miter"/>
<path d="M793.1 1226.5L807.6 1250.5L778.6 1250.5Z" fill="#922700" stroke="#111" stroke-width="2" stroke-linejoin="miter"/>
<path d="M836.5 1226.5L851.0 1250.5L822.0 1250.5Z" fill="#922700" stroke="#111" stroke-width="2" stroke-linejoin="miter"/>
<path d="M879.8 1223.5L894.3 1247.5L865.3 1247.5Z" fill="#922700" stroke="#111" stroke-width="2" stroke-linejoin="miter"/>
<path d="M923.2 1166.5L937.7 1190.5L908.7 1190.5Z" fill="#922700" stroke="#111" stroke-width="2" stroke-linejoin="miter"/>
<path d="M966.6 1228.5L981.1 1252.5L952.1 1252.5Z" fill="#922700" stroke="#111" stroke-width="2" stroke-linejoin="miter"/>
<path d="M1009.9 1200.8L1024.4 1224.8L995.4 1224.8Z" fill="#922700" stroke="#111" stroke-width="2" stroke-linejoin="miter"/>
<rect x="172.8" y="1156.8" width="26.4" height="26.4" rx="1.5" fill="#FF4A00" stroke="#111" stroke-width="2"/>
<rect x="216.1" y="1191.8" width="26.4" height="26.4" rx="1.5" fill="#FF4A00" stroke="#111" stroke-width="2"/>
<rect x="259.5" y="1206.8" width="26.4" height="26.4" rx="1.5" fill="#FF4A00" stroke="#111" stroke-width="2"/>
<rect x="281.2" y="1174.8" width="26.4" height="26.4" rx="1.5" fill="#FF4A00" stroke="#111" stroke-width="2"/>
<rect x="302.9" y="1121.8" width="26.4" height="26.4" rx="1.5" fill="#FF4A00" stroke="#111" stroke-width="2"/>
<rect x="324.6" y="1080.8" width="26.4" height="26.4" rx="1.5" fill="#FF4A00" stroke="#111" stroke-width="2"/>
<rect x="346.2" y="1131.8" width="26.4" height="26.4" rx="1.5" fill="#FF4A00" stroke="#111" stroke-width="2"/>
<rect x="367.9" y="1157.8" width="26.4" height="26.4" rx="1.5" fill="#FF4A00" stroke="#111" stroke-width="2"/>
<rect x="389.6" y="1181.8" width="26.4" height="26.4" rx="1.5" fill="#FF4A00" stroke="#111" stroke-width="2"/>
<rect x="433.0" y="1222.8" width="26.4" height="26.4" rx="1.5" fill="#FF4A00" stroke="#111" stroke-width="2"/>
<rect x="476.3" y="1218.8" width="26.4" height="26.4" rx="1.5" fill="#FF4A00" stroke="#111" stroke-width="2"/>
<rect x="519.7" y="1211.8" width="26.4" height="26.4" rx="1.5" fill="#FF4A00" stroke="#111" stroke-width="2"/>
<rect x="563.1" y="1186.8" width="26.4" height="26.4" rx="1.5" fill="#FF4A00" stroke="#111" stroke-width="2"/>
<rect x="606.4" y="1183.8" width="26.4" height="26.4" rx="1.5" fill="#FF4A00" stroke="#111" stroke-width="2"/>
<rect x="649.8" y="1175.3" width="26.4" height="26.4" rx="1.5" fill="#FF4A00" stroke="#111" stroke-width="2"/>
<rect x="693.2" y="1171.8" width="26.4" height="26.4" rx="1.5" fill="#FF4A00" stroke="#111" stroke-width="2"/>
<rect x="736.5" y="1211.8" width="26.4" height="26.4" rx="1.5" fill="#FF4A00" stroke="#111" stroke-width="2"/>
<rect x="779.9" y="1216.8" width="26.4" height="26.4" rx="1.5" fill="#FF4A00" stroke="#111" stroke-width="2"/>
<rect x="823.3" y="1208.8" width="26.4" height="26.4" rx="1.5" fill="#FF4A00" stroke="#111" stroke-width="2"/>
<rect x="866.6" y="1206.8" width="26.4" height="26.4" rx="1.5" fill="#FF4A00" stroke="#111" stroke-width="2"/>
<rect x="910.0" y="1216.8" width="26.4" height="26.4" rx="1.5" fill="#FF4A00" stroke="#111" stroke-width="2"/>
<rect x="953.4" y="1221.8" width="26.4" height="26.4" rx="1.5" fill="#FF4A00" stroke="#111" stroke-width="2"/>
<rect x="996.7" y="1226.8" width="26.4" height="26.4" rx="1.5" fill="#FF4A00" stroke="#111" stroke-width="2"/>
<rect x="172.8" y="1108.4" width="26.4" height="26.4" rx="1.5" fill="#45C0F5" stroke="#111" stroke-width="2"/>
<rect x="216.1" y="1188.4" width="26.4" height="26.4" rx="1.5" fill="#45C0F5" stroke="#111" stroke-width="2"/>
<rect x="259.5" y="1203.4" width="26.4" height="26.4" rx="1.5" fill="#45C0F5" stroke="#111" stroke-width="2"/>
<rect x="281.2" y="1177.8" width="26.4" height="26.4" rx="1.5" fill="#45C0F5" stroke="#111" stroke-width="2"/>
<rect x="302.9" y="1181.8" width="26.4" height="26.4" rx="1.5" fill="#45C0F5" stroke="#111" stroke-width="2"/>
<rect x="324.6" y="1184.8" width="26.4" height="26.4" rx="1.5" fill="#45C0F5" stroke="#111" stroke-width="2"/>
<rect x="346.2" y="1196.8" width="26.4" height="26.4" rx="1.5" fill="#45C0F5" stroke="#111" stroke-width="2"/>
<rect x="367.9" y="1180.8" width="26.4" height="26.4" rx="1.5" fill="#45C0F5" stroke="#111" stroke-width="2"/>
<rect x="389.6" y="1184.8" width="26.4" height="26.4" rx="1.5" fill="#45C0F5" stroke="#111" stroke-width="2"/>
<rect x="433.0" y="1201.8" width="26.4" height="26.4" rx="1.5" fill="#45C0F5" stroke="#111" stroke-width="2"/>
<rect x="476.3" y="1186.8" width="26.4" height="26.4" rx="1.5" fill="#45C0F5" stroke="#111" stroke-width="2"/>
<rect x="519.7" y="1194.8" width="26.4" height="26.4" rx="1.5" fill="#45C0F5" stroke="#111" stroke-width="2"/>
<rect x="563.1" y="1208.8" width="26.4" height="26.4" rx="1.5" fill="#45C0F5" stroke="#111" stroke-width="2"/>
<rect x="606.4" y="1206.8" width="26.4" height="26.4" rx="1.5" fill="#45C0F5" stroke="#111" stroke-width="2"/>
<rect x="649.8" y="1201.8" width="26.4" height="26.4" rx="1.5" fill="#45C0F5" stroke="#111" stroke-width="2"/>
<rect x="693.2" y="1200.7" width="26.4" height="26.4" rx="1.5" fill="#45C0F5" stroke="#111" stroke-width="2"/>
<rect x="736.5" y="1216.8" width="26.4" height="26.4" rx="1.5" fill="#45C0F5" stroke="#111" stroke-width="2"/>
<rect x="779.9" y="1224.8" width="26.4" height="26.4" rx="1.5" fill="#45C0F5" stroke="#111" stroke-width="2"/>
<rect x="823.3" y="1221.8" width="26.4" height="26.4" rx="1.5" fill="#45C0F5" stroke="#111" stroke-width="2"/>
<rect x="866.6" y="1226.8" width="26.4" height="26.4" rx="1.5" fill="#45C0F5" stroke="#111" stroke-width="2"/>
<rect x="910.0" y="1226.8" width="26.4" height="26.4" rx="1.5" fill="#45C0F5" stroke="#111" stroke-width="2"/>
<rect x="953.4" y="1228.8" width="26.4" height="26.4" rx="1.5" fill="#45C0F5" stroke="#111" stroke-width="2"/>
<rect x="996.7" y="1226.8" width="26.4" height="26.4" rx="1.5" fill="#45C0F5" stroke="#111" stroke-width="2"/>
<path d="M186.0 1144.5L202.5 1160.0L186.0 1175.5L169.5 1160.0Z" fill="#4A7BEA" stroke="#111" stroke-width="2"/>
<path d="M229.3 1206.5L245.8 1222.0L229.3 1237.5L212.8 1222.0Z" fill="#4A7BEA" stroke="#111" stroke-width="2"/>
<path d="M272.7 1215.5L289.2 1231.0L272.7 1246.5L256.2 1231.0Z" fill="#4A7BEA" stroke="#111" stroke-width="2"/>
<path d="M294.4 1202.0L310.9 1217.5L294.4 1233.0L277.9 1217.5Z" fill="#4A7BEA" stroke="#111" stroke-width="2"/>
<path d="M316.1 1178.4L332.6 1193.9L316.1 1209.4L299.6 1193.9Z" fill="#4A7BEA" stroke="#111" stroke-width="2"/>
<path d="M337.8 1184.5L354.3 1200.0L337.8 1215.5L321.3 1200.0Z" fill="#4A7BEA" stroke="#111" stroke-width="2"/>
<path d="M359.4 1188.5L375.9 1204.0L359.4 1219.5L342.9 1204.0Z" fill="#4A7BEA" stroke="#111" stroke-width="2"/>
<path d="M381.1 1182.1L397.6 1197.6L381.1 1213.1L364.6 1197.6Z" fill="#4A7BEA" stroke="#111" stroke-width="2"/>
<path d="M402.8 1199.5L419.3 1215.0L402.8 1230.5L386.3 1215.0Z" fill="#4A7BEA" stroke="#111" stroke-width="2"/>
<path d="M446.2 1214.5L462.7 1230.0L446.2 1245.5L429.7 1230.0Z" fill="#4A7BEA" stroke="#111" stroke-width="2"/>
<path d="M489.5 1219.5L506.0 1235.0L489.5 1250.5L473.0 1235.0Z" fill="#4A7BEA" stroke="#111" stroke-width="2"/>
<path d="M532.9 1209.5L549.4 1225.0L532.9 1240.5L516.4 1225.0Z" fill="#4A7BEA" stroke="#111" stroke-width="2"/>
<path d="M576.3 1209.5L592.8 1225.0L576.3 1240.5L559.8 1225.0Z" fill="#4A7BEA" stroke="#111" stroke-width="2"/>
<path d="M619.6 1194.5L636.1 1210.0L619.6 1225.5L603.1 1210.0Z" fill="#4A7BEA" stroke="#111" stroke-width="2"/>
<path d="M663.0 1214.5L679.5 1230.0L663.0 1245.5L646.5 1230.0Z" fill="#4A7BEA" stroke="#111" stroke-width="2"/>
<path d="M706.4 1219.5L722.9 1235.0L706.4 1250.5L689.9 1235.0Z" fill="#4A7BEA" stroke="#111" stroke-width="2"/>
<path d="M749.7 1219.5L766.2 1235.0L749.7 1250.5L733.2 1235.0Z" fill="#4A7BEA" stroke="#111" stroke-width="2"/>
<path d="M793.1 1224.5L809.6 1240.0L793.1 1255.5L776.6 1240.0Z" fill="#4A7BEA" stroke="#111" stroke-width="2"/>
<path d="M836.5 1219.5L853.0 1235.0L836.5 1250.5L820.0 1235.0Z" fill="#4A7BEA" stroke="#111" stroke-width="2"/>
<path d="M879.8 1224.5L896.3 1240.0L879.8 1255.5L863.3 1240.0Z" fill="#4A7BEA" stroke="#111" stroke-width="2"/>
<path d="M923.2 1224.5L939.7 1240.0L923.2 1255.5L906.7 1240.0Z" fill="#4A7BEA" stroke="#111" stroke-width="2"/>
<path d="M966.6 1224.5L983.1 1240.0L966.6 1255.5L950.1 1240.0Z" fill="#4A7BEA" stroke="#111" stroke-width="2"/>
<path d="M1009.9 1224.5L1026.4 1240.0L1009.9 1255.5L993.4 1240.0Z" fill="#4A7BEA" stroke="#111" stroke-width="2"/>
<circle cx="186.0" cy="1155.0" r="13.3" fill="#3D64D6" stroke="#111" stroke-width="2"/>
<circle cx="229.3" cy="1215.0" r="13.3" fill="#3D64D6" stroke="#111" stroke-width="2"/>
<circle cx="272.7" cy="1228.0" r="13.3" fill="#3D64D6" stroke="#111" stroke-width="2"/>
<circle cx="294.4" cy="1218.0" r="13.3" fill="#3D64D6" stroke="#111" stroke-width="2"/>
<circle cx="316.1" cy="1195.0" r="13.3" fill="#3D64D6" stroke="#111" stroke-width="2"/>
<circle cx="337.8" cy="1199.0" r="13.3" fill="#3D64D6" stroke="#111" stroke-width="2"/>
<circle cx="359.4" cy="1215.0" r="13.3" fill="#3D64D6" stroke="#111" stroke-width="2"/>
<circle cx="381.1" cy="1220.0" r="13.3" fill="#3D64D6" stroke="#111" stroke-width="2"/>
<circle cx="402.8" cy="1210.0" r="13.3" fill="#3D64D6" stroke="#111" stroke-width="2"/>
<circle cx="446.2" cy="1225.0" r="13.3" fill="#3D64D6" stroke="#111" stroke-width="2"/>
<circle cx="489.5" cy="1212.0" r="13.3" fill="#3D64D6" stroke="#111" stroke-width="2"/>
<circle cx="532.9" cy="1220.0" r="13.3" fill="#3D64D6" stroke="#111" stroke-width="2"/>
<circle cx="576.3" cy="1225.0" r="13.3" fill="#3D64D6" stroke="#111" stroke-width="2"/>
<circle cx="619.6" cy="1225.0" r="13.3" fill="#3D64D6" stroke="#111" stroke-width="2"/>
<circle cx="663.0" cy="1228.0" r="13.3" fill="#3D64D6" stroke="#111" stroke-width="2"/>
<circle cx="706.4" cy="1227.5" r="13.3" fill="#3D64D6" stroke="#111" stroke-width="2"/>
<circle cx="749.7" cy="1225.0" r="13.3" fill="#3D64D6" stroke="#111" stroke-width="2"/>
<circle cx="793.1" cy="1230.0" r="13.3" fill="#3D64D6" stroke="#111" stroke-width="2"/>
<circle cx="836.5" cy="1207.0" r="13.3" fill="#3D64D6" stroke="#111" stroke-width="2"/>
<circle cx="879.8" cy="1207.0" r="13.3" fill="#3D64D6" stroke="#111" stroke-width="2"/>
<circle cx="923.2" cy="1191.2" r="13.3" fill="#3D64D6" stroke="#111" stroke-width="2"/>
<circle cx="966.6" cy="1222.0" r="13.3" fill="#3D64D6" stroke="#111" stroke-width="2"/>
<circle cx="1009.9" cy="1230.0" r="13.3" fill="#3D64D6" stroke="#111" stroke-width="2"/>
<path d="M176.0 1129.7L196.0 1149.7M196.0 1129.7L176.0 1149.7" stroke="#111" stroke-width="6" stroke-linecap="square"/><path d="M176.0 1129.7L196.0 1149.7M196.0 1129.7L176.0 1149.7" stroke="#A8A8A8" stroke-width="3" stroke-linecap="square"/>
<path d="M219.3 1205.0L239.3 1225.0M239.3 1205.0L219.3 1225.0" stroke="#111" stroke-width="6" stroke-linecap="square"/><path d="M219.3 1205.0L239.3 1225.0M239.3 1205.0L219.3 1225.0" stroke="#A8A8A8" stroke-width="3" stroke-linecap="square"/>
<path d="M262.7 1220.0L282.7 1240.0M282.7 1220.0L262.7 1240.0" stroke="#111" stroke-width="6" stroke-linecap="square"/><path d="M262.7 1220.0L282.7 1240.0M282.7 1220.0L262.7 1240.0" stroke="#A8A8A8" stroke-width="3" stroke-linecap="square"/>
<path d="M284.4 1202.0L304.4 1222.0M304.4 1202.0L284.4 1222.0" stroke="#111" stroke-width="6" stroke-linecap="square"/><path d="M284.4 1202.0L304.4 1222.0M304.4 1202.0L284.4 1222.0" stroke="#A8A8A8" stroke-width="3" stroke-linecap="square"/>
<path d="M306.1 1206.4L326.1 1226.4M326.1 1206.4L306.1 1226.4" stroke="#111" stroke-width="6" stroke-linecap="square"/><path d="M306.1 1206.4L326.1 1226.4M326.1 1206.4L306.1 1226.4" stroke="#A8A8A8" stroke-width="3" stroke-linecap="square"/>
<path d="M327.8 1211.0L347.8 1231.0M347.8 1211.0L327.8 1231.0" stroke="#111" stroke-width="6" stroke-linecap="square"/><path d="M327.8 1211.0L347.8 1231.0M347.8 1211.0L327.8 1231.0" stroke="#A8A8A8" stroke-width="3" stroke-linecap="square"/>
<path d="M349.4 1212.0L369.4 1232.0M369.4 1212.0L349.4 1232.0" stroke="#111" stroke-width="6" stroke-linecap="square"/><path d="M349.4 1212.0L369.4 1232.0M369.4 1212.0L349.4 1232.0" stroke="#A8A8A8" stroke-width="3" stroke-linecap="square"/>
<path d="M371.1 1212.0L391.1 1232.0M391.1 1212.0L371.1 1232.0" stroke="#111" stroke-width="6" stroke-linecap="square"/><path d="M371.1 1212.0L391.1 1232.0M391.1 1212.0L371.1 1232.0" stroke="#A8A8A8" stroke-width="3" stroke-linecap="square"/>
<path d="M392.8 1215.0L412.8 1235.0M412.8 1215.0L392.8 1235.0" stroke="#111" stroke-width="6" stroke-linecap="square"/><path d="M392.8 1215.0L412.8 1235.0M412.8 1215.0L392.8 1235.0" stroke="#A8A8A8" stroke-width="3" stroke-linecap="square"/>
<path d="M436.2 1205.0L456.2 1225.0M456.2 1205.0L436.2 1225.0" stroke="#111" stroke-width="6" stroke-linecap="square"/><path d="M436.2 1205.0L456.2 1225.0M456.2 1205.0L436.2 1225.0" stroke="#A8A8A8" stroke-width="3" stroke-linecap="square"/>
<path d="M479.5 1212.0L499.5 1232.0M499.5 1212.0L479.5 1232.0" stroke="#111" stroke-width="6" stroke-linecap="square"/><path d="M479.5 1212.0L499.5 1232.0M499.5 1212.0L479.5 1232.0" stroke="#A8A8A8" stroke-width="3" stroke-linecap="square"/>
<path d="M522.9 1176.5L542.9 1196.5M542.9 1176.5L522.9 1196.5" stroke="#111" stroke-width="6" stroke-linecap="square"/><path d="M522.9 1176.5L542.9 1196.5M542.9 1176.5L522.9 1196.5" stroke="#A8A8A8" stroke-width="3" stroke-linecap="square"/>
<path d="M566.3 1181.6L586.3 1201.6M586.3 1181.6L566.3 1201.6" stroke="#111" stroke-width="6" stroke-linecap="square"/><path d="M566.3 1181.6L586.3 1201.6M586.3 1181.6L566.3 1201.6" stroke="#A8A8A8" stroke-width="3" stroke-linecap="square"/>
<path d="M609.6 1203.0L629.6 1223.0M629.6 1203.0L609.6 1223.0" stroke="#111" stroke-width="6" stroke-linecap="square"/><path d="M609.6 1203.0L629.6 1223.0M629.6 1203.0L609.6 1223.0" stroke="#A8A8A8" stroke-width="3" stroke-linecap="square"/>
<path d="M653.0 1215.0L673.0 1235.0M673.0 1215.0L653.0 1235.0" stroke="#111" stroke-width="6" stroke-linecap="square"/><path d="M653.0 1215.0L673.0 1235.0M673.0 1215.0L653.0 1235.0" stroke="#A8A8A8" stroke-width="3" stroke-linecap="square"/>
<path d="M696.4 1220.0L716.4 1240.0M716.4 1220.0L696.4 1240.0" stroke="#111" stroke-width="6" stroke-linecap="square"/><path d="M696.4 1220.0L716.4 1240.0M716.4 1220.0L696.4 1240.0" stroke="#A8A8A8" stroke-width="3" stroke-linecap="square"/>
<path d="M739.7 1233.0L759.7 1253.0M759.7 1233.0L739.7 1253.0" stroke="#111" stroke-width="6" stroke-linecap="square"/><path d="M739.7 1233.0L759.7 1253.0M759.7 1233.0L739.7 1253.0" stroke="#A8A8A8" stroke-width="3" stroke-linecap="square"/>
<path d="M783.1 1233.0L803.1 1253.0M803.1 1233.0L783.1 1253.0" stroke="#111" stroke-width="6" stroke-linecap="square"/><path d="M783.1 1233.0L803.1 1253.0M803.1 1233.0L783.1 1253.0" stroke="#A8A8A8" stroke-width="3" stroke-linecap="square"/>
<path d="M826.5 1233.0L846.5 1253.0M846.5 1233.0L826.5 1253.0" stroke="#111" stroke-width="6" stroke-linecap="square"/><path d="M826.5 1233.0L846.5 1253.0M846.5 1233.0L826.5 1253.0" stroke="#A8A8A8" stroke-width="3" stroke-linecap="square"/>
<path d="M869.8 1232.0L889.8 1252.0M889.8 1232.0L869.8 1252.0" stroke="#111" stroke-width="6" stroke-linecap="square"/><path d="M869.8 1232.0L889.8 1252.0M889.8 1232.0L869.8 1252.0" stroke="#A8A8A8" stroke-width="3" stroke-linecap="square"/>
<path d="M913.2 1230.0L933.2 1250.0M933.2 1230.0L913.2 1250.0" stroke="#111" stroke-width="6" stroke-linecap="square"/><path d="M913.2 1230.0L933.2 1250.0M933.2 1230.0L913.2 1250.0" stroke="#A8A8A8" stroke-width="3" stroke-linecap="square"/>
<path d="M956.6 1228.0L976.6 1248.0M976.6 1228.0L956.6 1248.0" stroke="#111" stroke-width="6" stroke-linecap="square"/><path d="M956.6 1228.0L976.6 1248.0M976.6 1228.0L956.6 1248.0" stroke="#A8A8A8" stroke-width="3" stroke-linecap="square"/>
<path d="M999.9 1210.0L1019.9 1230.0M1019.9 1210.0L999.9 1230.0" stroke="#111" stroke-width="6" stroke-linecap="square"/><path d="M999.9 1210.0L1019.9 1230.0M1019.9 1210.0L999.9 1230.0" stroke="#A8A8A8" stroke-width="3" stroke-linecap="square"/>
<path d="M186.0 1140.5L202.5 1156.0L186.0 1171.5L169.5 1156.0Z" fill="#F54400" stroke="#111" stroke-width="2"/>
<path d="M229.3 1202.5L245.8 1218.0L229.3 1233.5L212.8 1218.0Z" fill="#F54400" stroke="#111" stroke-width="2"/>
<path d="M272.7 1209.5L289.2 1225.0L272.7 1240.5L256.2 1225.0Z" fill="#F54400" stroke="#111" stroke-width="2"/>
<path d="M294.4 1191.5L310.9 1207.0L294.4 1222.5L277.9 1207.0Z" fill="#F54400" stroke="#111" stroke-width="2"/>
<path d="M316.1 1160.5L332.6 1176.0L316.1 1191.5L299.6 1176.0Z" fill="#F54400" stroke="#111" stroke-width="2"/>
<path d="M337.8 1060.5L354.3 1076.0L337.8 1091.5L321.3 1076.0Z" fill="#F54400" stroke="#111" stroke-width="2"/>
<path d="M359.4 1105.5L375.9 1121.0L359.4 1136.5L342.9 1121.0Z" fill="#F54400" stroke="#111" stroke-width="2"/>
<path d="M381.1 1137.5L397.6 1153.0L381.1 1168.5L364.6 1153.0Z" fill="#F54400" stroke="#111" stroke-width="2"/>
<path d="M402.8 1212.5L419.3 1228.0L402.8 1243.5L386.3 1228.0Z" fill="#F54400" stroke="#111" stroke-width="2"/>
<path d="M446.2 1221.5L462.7 1237.0L446.2 1252.5L429.7 1237.0Z" fill="#F54400" stroke="#111" stroke-width="2"/>
<path d="M489.5 1226.5L506.0 1242.0L489.5 1257.5L473.0 1242.0Z" fill="#F54400" stroke="#111" stroke-width="2"/>
<path d="M532.9 1216.5L549.4 1232.0L532.9 1247.5L516.4 1232.0Z" fill="#F54400" stroke="#111" stroke-width="2"/>
<path d="M576.3 1226.5L592.8 1242.0L576.3 1257.5L559.8 1242.0Z" fill="#F54400" stroke="#111" stroke-width="2"/>
<path d="M619.6 1219.5L636.1 1235.0L619.6 1250.5L603.1 1235.0Z" fill="#F54400" stroke="#111" stroke-width="2"/>
<path d="M663.0 1203.5L679.5 1219.0L663.0 1234.5L646.5 1219.0Z" fill="#F54400" stroke="#111" stroke-width="2"/>
<path d="M706.4 1142.5L722.9 1158.0L706.4 1173.5L689.9 1158.0Z" fill="#F54400" stroke="#111" stroke-width="2"/>
<path d="M749.7 1206.5L766.2 1222.0L749.7 1237.5L733.2 1222.0Z" fill="#F54400" stroke="#111" stroke-width="2"/>
<path d="M793.1 1224.5L809.6 1240.0L793.1 1255.5L776.6 1240.0Z" fill="#F54400" stroke="#111" stroke-width="2"/>
<path d="M836.5 1209.5L853.0 1225.0L836.5 1240.5L820.0 1225.0Z" fill="#F54400" stroke="#111" stroke-width="2"/>
<path d="M879.8 1219.5L896.3 1235.0L879.8 1250.5L863.3 1235.0Z" fill="#F54400" stroke="#111" stroke-width="2"/>
<path d="M923.2 1216.5L939.7 1232.0L923.2 1247.5L906.7 1232.0Z" fill="#F54400" stroke="#111" stroke-width="2"/>
<path d="M966.6 1220.5L983.1 1236.0L966.6 1251.5L950.1 1236.0Z" fill="#F54400" stroke="#111" stroke-width="2"/>
<path d="M1009.9 1217.5L1026.4 1233.0L1009.9 1248.5L993.4 1233.0Z" fill="#F54400" stroke="#111" stroke-width="2"/>
<path d="M186.0 1135.5L200.5 1159.5L171.5 1159.5Z" fill="#2E4DA8" stroke="#111" stroke-width="2" stroke-linejoin="miter"/>
<path d="M229.3 1200.5L243.8 1224.5L214.8 1224.5Z" fill="#2E4DA8" stroke="#111" stroke-width="2" stroke-linejoin="miter"/>
<path d="M272.7 1213.5L287.2 1237.5L258.2 1237.5Z" fill="#2E4DA8" stroke="#111" stroke-width="2" stroke-linejoin="miter"/>
<path d="M294.4 1193.5L308.9 1217.5L279.9 1217.5Z" fill="#2E4DA8" stroke="#111" stroke-width="2" stroke-linejoin="miter"/>
<path d="M316.1 1146.5L330.6 1170.5L301.6 1170.5Z" fill="#2E4DA8" stroke="#111" stroke-width="2" stroke-linejoin="miter"/>
<path d="M337.8 1078.3L352.3 1102.3L323.3 1102.3Z" fill="#2E4DA8" stroke="#111" stroke-width="2" stroke-linejoin="miter"/>
<path d="M359.4 1138.8L373.9 1162.8L344.9 1162.8Z" fill="#2E4DA8" stroke="#111" stroke-width="2" stroke-linejoin="miter"/>
<path d="M381.1 1153.8L395.6 1177.8L366.6 1177.8Z" fill="#2E4DA8" stroke="#111" stroke-width="2" stroke-linejoin="miter"/>
<path d="M402.8 1189.9L417.3 1213.9L388.3 1213.9Z" fill="#2E4DA8" stroke="#111" stroke-width="2" stroke-linejoin="miter"/>
<path d="M446.2 1186.9L460.7 1210.9L431.7 1210.9Z" fill="#2E4DA8" stroke="#111" stroke-width="2" stroke-linejoin="miter"/>
<path d="M489.5 1195.3L504.0 1219.3L475.0 1219.3Z" fill="#2E4DA8" stroke="#111" stroke-width="2" stroke-linejoin="miter"/>
<path d="M532.9 1194.5L547.4 1218.5L518.4 1218.5Z" fill="#2E4DA8" stroke="#111" stroke-width="2" stroke-linejoin="miter"/>
<path d="M576.3 1196.2L590.8 1220.2L561.8 1220.2Z" fill="#2E4DA8" stroke="#111" stroke-width="2" stroke-linejoin="miter"/>
<path d="M619.6 1210.5L634.1 1234.5L605.1 1234.5Z" fill="#2E4DA8" stroke="#111" stroke-width="2" stroke-linejoin="miter"/>
<path d="M663.0 1185.1L677.5 1209.1L648.5 1209.1Z" fill="#2E4DA8" stroke="#111" stroke-width="2" stroke-linejoin="miter"/>
<path d="M706.4 1185.1L720.9 1209.1L691.9 1209.1Z" fill="#2E4DA8" stroke="#111" stroke-width="2" stroke-linejoin="miter"/>
<path d="M749.7 1196.5L764.2 1220.5L735.2 1220.5Z" fill="#2E4DA8" stroke="#111" stroke-width="2" stroke-linejoin="miter"/>
<path d="M793.1 1200.8L807.6 1224.8L778.6 1224.8Z" fill="#2E4DA8" stroke="#111" stroke-width="2" stroke-linejoin="miter"/>
<path d="M836.5 1201.3L851.0 1225.3L822.0 1225.3Z" fill="#2E4DA8" stroke="#111" stroke-width="2" stroke-linejoin="miter"/>
<path d="M879.8 1191.5L894.3 1215.5L865.3 1215.5Z" fill="#2E4DA8" stroke="#111" stroke-width="2" stroke-linejoin="miter"/>
<path d="M923.2 1119.7L937.7 1143.7L908.7 1143.7Z" fill="#2E4DA8" stroke="#111" stroke-width="2" stroke-linejoin="miter"/>
<path d="M966.6 1194.2L981.1 1218.2L952.1 1218.2Z" fill="#2E4DA8" stroke="#111" stroke-width="2" stroke-linejoin="miter"/>
<path d="M1009.9 1179.7L1024.4 1203.7L995.4 1203.7Z" fill="#2E4DA8" stroke="#111" stroke-width="2" stroke-linejoin="miter"/>
<circle cx="186.0" cy="1147.0" r="13.3" fill="#D43A00" stroke="#111" stroke-width="2"/>
<circle cx="229.3" cy="1218.0" r="13.3" fill="#D43A00" stroke="#111" stroke-width="2"/>
<circle cx="272.7" cy="1227.0" r="13.3" fill="#D43A00" stroke="#111" stroke-width="2"/>
<circle cx="294.4" cy="1207.0" r="13.3" fill="#D43A00" stroke="#111" stroke-width="2"/>
<circle cx="316.1" cy="1158.0" r="13.3" fill="#D43A00" stroke="#111" stroke-width="2"/>
<circle cx="337.8" cy="1111.0" r="13.3" fill="#D43A00" stroke="#111" stroke-width="2"/>
<circle cx="359.4" cy="934.7" r="13.3" fill="#D43A00" stroke="#111" stroke-width="2"/>
<circle cx="381.1" cy="1021.0" r="13.3" fill="#D43A00" stroke="#111" stroke-width="2"/>
<circle cx="402.8" cy="1170.5" r="13.3" fill="#D43A00" stroke="#111" stroke-width="2"/>
<circle cx="446.2" cy="1219.0" r="13.3" fill="#D43A00" stroke="#111" stroke-width="2"/>
<circle cx="489.5" cy="1225.5" r="13.3" fill="#D43A00" stroke="#111" stroke-width="2"/>
<circle cx="532.9" cy="1227.0" r="13.3" fill="#D43A00" stroke="#111" stroke-width="2"/>
<circle cx="576.3" cy="1227.0" r="13.3" fill="#D43A00" stroke="#111" stroke-width="2"/>
<circle cx="619.6" cy="1229.0" r="13.3" fill="#D43A00" stroke="#111" stroke-width="2"/>
<circle cx="663.0" cy="1237.6" r="13.3" fill="#D43A00" stroke="#111" stroke-width="2"/>
<circle cx="706.4" cy="1233.4" r="13.3" fill="#D43A00" stroke="#111" stroke-width="2"/>
<circle cx="749.7" cy="1236.8" r="13.3" fill="#D43A00" stroke="#111" stroke-width="2"/>
<circle cx="793.1" cy="1237.3" r="13.3" fill="#D43A00" stroke="#111" stroke-width="2"/>
<circle cx="836.5" cy="1237.3" r="13.3" fill="#D43A00" stroke="#111" stroke-width="2"/>
<circle cx="879.8" cy="1233.4" r="13.3" fill="#D43A00" stroke="#111" stroke-width="2"/>
<circle cx="923.2" cy="1208.4" r="13.3" fill="#D43A00" stroke="#111" stroke-width="2"/>
<circle cx="966.6" cy="1070.0" r="13.3" fill="#D43A00" stroke="#111" stroke-width="2"/>
<circle cx="1009.9" cy="1126.7" r="13.3" fill="#D43A00" stroke="#111" stroke-width="2"/>
<rect x="164.3" y="640" width="867.3" height="609.3" fill="none" stroke="#000" stroke-width="2.6"/>
<line x1="154.3" y1="1249.3" x2="164.3" y2="1249.3" stroke="#000" stroke-width="2.5"/>
<text x="137" y="1261.1" font-family="Liberation Sans, sans-serif" stroke="#000" stroke-width="0.45" font-size="35.5" text-anchor="end">0</text>
<line x1="154.3" y1="1075.2" x2="164.3" y2="1075.2" stroke="#000" stroke-width="2.5"/>
<text x="137" y="1087.0" font-family="Liberation Sans, sans-serif" stroke="#000" stroke-width="0.45" font-size="35.5" text-anchor="end">10</text>
<line x1="154.3" y1="901.1" x2="164.3" y2="901.1" stroke="#000" stroke-width="2.5"/>
<text x="137" y="912.9" font-family="Liberation Sans, sans-serif" stroke="#000" stroke-width="0.45" font-size="35.5" text-anchor="end">20</text>
<line x1="154.3" y1="727.0" x2="164.3" y2="727.0" stroke="#000" stroke-width="2.5"/>
<text x="137" y="738.8" font-family="Liberation Sans, sans-serif" stroke="#000" stroke-width="0.45" font-size="35.5" text-anchor="end">30</text>
<line x1="164.3" y1="1249.3" x2="164.3" y2="1257.3" stroke="#000" stroke-width="2.5"/>
<line x1="381.1" y1="1249.3" x2="381.1" y2="1257.3" stroke="#000" stroke-width="2.5"/>
<line x1="598.0" y1="1249.3" x2="598.0" y2="1257.3" stroke="#000" stroke-width="2.5"/>
<line x1="814.8" y1="1249.3" x2="814.8" y2="1257.3" stroke="#000" stroke-width="2.5"/>
<line x1="1031.6" y1="1249.3" x2="1031.6" y2="1257.3" stroke="#000" stroke-width="2.5"/>
<text x="183" y="679.5" font-family="Liberation Sans, sans-serif" stroke="#000" stroke-width="0.45" font-size="30" font-weight="bold">B</text>
<text transform="translate(71,1171) rotate(-90) scale(0.962,1)" font-family="Liberation Sans, sans-serif" stroke="#000" stroke-width="0.45" font-size="40" text-anchor="start">Picoeukaryotes (cells µL</text>
<text transform="translate(52,753) rotate(-90) scale(1,1)" font-family="Liberation Sans, sans-serif" stroke="#000" stroke-width="0.45" font-size="28" text-anchor="start">-</text>
<text transform="translate(52,745.5) rotate(-90) scale(0.65,1)" font-family="Liberation Sans, sans-serif" stroke="#000" stroke-width="0.45" font-size="28" text-anchor="start">1</text>
<text transform="translate(71,729) rotate(-90) scale(1,1)" font-family="Liberation Sans, sans-serif" stroke="#000" stroke-width="0.45" font-size="40" text-anchor="start">)</text>
<path d="M191.3 1840.0 L234.7 1830.0 L278.0 1825.0 L299.7 1770.0 L321.4 1538.0 L343.1 1388.0 L364.8 1281.5 L386.4 1634.5 L408.1 1741.0 L451.5 1806.4 L494.9 1830.0 L538.2 1840.0 L581.6 1840.0 L625.0 1809.0 L668.4 1769.7 L711.7 1763.5 L755.1 1800.0 L798.5 1840.0 L841.8 1838.0 L885.2 1835.0 L928.6 1830.0 L971.9 1800.4 L1015.3 1807.6" fill="none" stroke="#111" stroke-width="1.6"/>
<path d="M191.3 1846.0 L234.7 1822.0 L278.0 1835.0 L299.7 1760.0 L321.4 1744.0 L343.1 1726.5 L364.8 1758.5 L386.4 1759.0 L408.1 1830.0 L451.5 1850.0 L494.9 1845.0 L538.2 1835.0 L581.6 1840.0 L625.0 1850.0 L668.4 1855.0 L711.7 1840.0 L755.1 1840.0 L798.5 1835.0 L841.8 1824.0 L885.2 1830.0 L928.6 1816.0 L971.9 1816.0 L1015.3 1830.0" fill="none" stroke="#111" stroke-width="1.6"/>
<path d="M191.3 1845.0 L234.7 1825.0 L278.0 1814.0 L299.7 1780.0 L321.4 1790.0 L343.1 1792.0 L364.8 1830.0 L386.4 1825.0 L408.1 1845.0 L451.5 1855.0 L494.9 1850.0 L538.2 1826.0 L581.6 1850.0 L625.0 1848.0 L668.4 1862.0 L711.7 1855.0 L755.1 1862.8 L798.5 1871.0 L841.8 1869.0 L885.2 1871.0 L928.6 1865.6 L971.9 1869.7 L1015.3 1865.6" fill="none" stroke="#111" stroke-width="1.6"/>
<path d="M191.3 1811.5 L234.7 1789.0 L278.0 1790.0 L299.7 1761.0 L321.4 1759.5 L343.1 1779.0 L364.8 1805.0 L386.4 1797.0 L408.1 1813.0 L451.5 1822.0 L494.9 1815.0 L538.2 1815.0 L581.6 1827.0 L625.0 1830.0 L668.4 1840.0 L711.7 1827.0 L755.1 1820.4 L798.5 1845.0 L841.8 1850.0 L885.2 1850.0 L928.6 1840.0 L971.9 1840.0 L1015.3 1840.0" fill="none" stroke="#111" stroke-width="1.6"/>
<path d="M191.3 1835.0 L234.7 1820.0 L278.0 1805.0 L299.7 1777.5 L321.4 1785.0 L343.1 1814.3 L364.8 1839.0 L386.4 1822.4 L408.1 1840.0 L451.5 1845.0 L494.9 1808.0 L538.2 1819.0 L581.6 1848.0 L625.0 1850.0 L668.4 1845.0 L711.7 1840.0 L755.1 1832.0 L798.5 1845.0 L841.8 1850.0 L885.2 1853.0 L928.6 1830.4 L971.9 1835.6 L1015.3 1787.0" fill="none" stroke="#111" stroke-width="1.6"/>
<path d="M191.3 1840.0 L234.7 1830.0 L278.0 1818.0 L299.7 1814.4 L321.4 1814.4 L343.1 1814.0 L364.8 1816.0 L386.4 1835.0 L408.1 1850.0 L451.5 1855.0 L494.9 1860.0 L538.2 1846.3 L581.6 1845.0 L625.0 1855.0 L668.4 1860.0 L711.7 1850.0 L755.1 1860.0 L798.5 1865.0 L841.8 1865.0 L885.2 1873.8 L928.6 1871.8 L971.9 1870.0 L1015.3 1865.0" fill="none" stroke="#111" stroke-width="1.6"/>
<path d="M191.3 1845.0 L234.7 1832.0 L278.0 1814.0 L299.7 1740.0 L321.4 1622.0 L343.1 1645.0 L364.8 1785.5 L386.4 1848.0 L408.1 1865.5 L451.5 1865.5 L494.9 1860.7 L538.2 1806.4 L581.6 1783.2 L625.0 1857.0 L668.4 1860.0 L711.7 1850.0 L755.1 1846.2 L798.5 1860.7 L841.8 1854.2 L885.2 1842.8 L928.6 1849.0 L971.9 1855.2 L1015.3 1842.0" fill="none" stroke="#111" stroke-width="1.6"/>
<path d="M191.3 1838.0 L234.7 1814.4 L278.0 1795.0 L299.7 1750.0 L321.4 1658.0 L343.1 1702.0 L364.8 1801.3 L386.4 1835.0 L408.1 1846.3 L451.5 1822.0 L494.9 1787.0 L538.2 1722.5 L581.6 1810.0 L625.0 1835.0 L668.4 1822.4 L711.7 1799.7 L755.1 1786.2 L798.5 1830.1 L841.8 1835.0 L885.2 1820.4 L928.6 1799.8 L971.9 1821.0 L1015.3 1822.5" fill="none" stroke="#111" stroke-width="1.6"/>
<path d="M191.3 1846.0 L234.7 1834.3 L278.0 1814.4 L299.7 1746.4 L321.4 1575.0 L343.1 1395.7 L364.8 1588.8 L386.4 1759.2 L408.1 1830.3 L451.5 1841.5 L494.9 1838.3 L538.2 1793.6 L581.6 1788.8 L625.0 1845.0 L668.4 1858.7 L711.7 1848.3 L755.1 1800.7 L798.5 1797.6 L841.8 1840.7 L885.2 1799.3 L928.6 1727.9 L971.9 1776.6 L1015.3 1848.0" fill="none" stroke="#111" stroke-width="1.6"/>
<path d="M191.3 1828.5L205.8 1852.5L176.8 1852.5Z" fill="#922700" stroke="#111" stroke-width="2" stroke-linejoin="miter"/>
<path d="M234.7 1818.5L249.2 1842.5L220.2 1842.5Z" fill="#922700" stroke="#111" stroke-width="2" stroke-linejoin="miter"/>
<path d="M278.0 1813.5L292.5 1837.5L263.5 1837.5Z" fill="#922700" stroke="#111" stroke-width="2" stroke-linejoin="miter"/>
<path d="M299.7 1758.5L314.2 1782.5L285.2 1782.5Z" fill="#922700" stroke="#111" stroke-width="2" stroke-linejoin="miter"/>
<path d="M321.4 1526.5L335.9 1550.5L306.9 1550.5Z" fill="#922700" stroke="#111" stroke-width="2" stroke-linejoin="miter"/>
<path d="M343.1 1376.5L357.6 1400.5L328.6 1400.5Z" fill="#922700" stroke="#111" stroke-width="2" stroke-linejoin="miter"/>
<path d="M364.8 1270.0L379.3 1294.0L350.3 1294.0Z" fill="#922700" stroke="#111" stroke-width="2" stroke-linejoin="miter"/>
<path d="M386.4 1623.0L400.9 1647.0L371.9 1647.0Z" fill="#922700" stroke="#111" stroke-width="2" stroke-linejoin="miter"/>
<path d="M408.1 1729.5L422.6 1753.5L393.6 1753.5Z" fill="#922700" stroke="#111" stroke-width="2" stroke-linejoin="miter"/>
<path d="M451.5 1794.9L466.0 1818.9L437.0 1818.9Z" fill="#922700" stroke="#111" stroke-width="2" stroke-linejoin="miter"/>
<path d="M494.9 1818.5L509.4 1842.5L480.4 1842.5Z" fill="#922700" stroke="#111" stroke-width="2" stroke-linejoin="miter"/>
<path d="M538.2 1828.5L552.7 1852.5L523.7 1852.5Z" fill="#922700" stroke="#111" stroke-width="2" stroke-linejoin="miter"/>
<path d="M581.6 1828.5L596.1 1852.5L567.1 1852.5Z" fill="#922700" stroke="#111" stroke-width="2" stroke-linejoin="miter"/>
<path d="M625.0 1797.5L639.5 1821.5L610.5 1821.5Z" fill="#922700" stroke="#111" stroke-width="2" stroke-linejoin="miter"/>
<path d="M668.4 1758.2L682.9 1782.2L653.9 1782.2Z" fill="#922700" stroke="#111" stroke-width="2" stroke-linejoin="miter"/>
<path d="M711.7 1752.0L726.2 1776.0L697.2 1776.0Z" fill="#922700" stroke="#111" stroke-width="2" stroke-linejoin="miter"/>
<path d="M755.1 1788.5L769.6 1812.5L740.6 1812.5Z" fill="#922700" stroke="#111" stroke-width="2" stroke-linejoin="miter"/>
<path d="M798.5 1828.5L813.0 1852.5L784.0 1852.5Z" fill="#922700" stroke="#111" stroke-width="2" stroke-linejoin="miter"/>
<path d="M841.8 1826.5L856.3 1850.5L827.3 1850.5Z" fill="#922700" stroke="#111" stroke-width="2" stroke-linejoin="miter"/>
<path d="M885.2 1823.5L899.7 1847.5L870.7 1847.5Z" fill="#922700" stroke="#111" stroke-width="2" stroke-linejoin="miter"/>
<path d="M928.6 1818.5L943.1 1842.5L914.1 1842.5Z" fill="#922700" stroke="#111" stroke-width="2" stroke-linejoin="miter"/>
<path d="M971.9 1788.9L986.4 1812.9L957.4 1812.9Z" fill="#922700" stroke="#111" stroke-width="2" stroke-linejoin="miter"/>
<path d="M1015.3 1796.1L1029.8 1820.1L1000.8 1820.1Z" fill="#922700" stroke="#111" stroke-width="2" stroke-linejoin="miter"/>
<rect x="178.1" y="1832.8" width="26.4" height="26.4" rx="1.5" fill="#FF4A00" stroke="#111" stroke-width="2"/>
<rect x="221.5" y="1808.8" width="26.4" height="26.4" rx="1.5" fill="#FF4A00" stroke="#111" stroke-width="2"/>
<rect x="264.8" y="1821.8" width="26.4" height="26.4" rx="1.5" fill="#FF4A00" stroke="#111" stroke-width="2"/>
<rect x="286.5" y="1746.8" width="26.4" height="26.4" rx="1.5" fill="#FF4A00" stroke="#111" stroke-width="2"/>
<rect x="308.2" y="1730.8" width="26.4" height="26.4" rx="1.5" fill="#FF4A00" stroke="#111" stroke-width="2"/>
<rect x="329.9" y="1713.3" width="26.4" height="26.4" rx="1.5" fill="#FF4A00" stroke="#111" stroke-width="2"/>
<rect x="351.6" y="1745.3" width="26.4" height="26.4" rx="1.5" fill="#FF4A00" stroke="#111" stroke-width="2"/>
<rect x="373.2" y="1745.8" width="26.4" height="26.4" rx="1.5" fill="#FF4A00" stroke="#111" stroke-width="2"/>
<rect x="394.9" y="1816.8" width="26.4" height="26.4" rx="1.5" fill="#FF4A00" stroke="#111" stroke-width="2"/>
<rect x="438.3" y="1836.8" width="26.4" height="26.4" rx="1.5" fill="#FF4A00" stroke="#111" stroke-width="2"/>
<rect x="481.7" y="1831.8" width="26.4" height="26.4" rx="1.5" fill="#FF4A00" stroke="#111" stroke-width="2"/>
<rect x="525.0" y="1821.8" width="26.4" height="26.4" rx="1.5" fill="#FF4A00" stroke="#111" stroke-width="2"/>
<rect x="568.4" y="1826.8" width="26.4" height="26.4" rx="1.5" fill="#FF4A00" stroke="#111" stroke-width="2"/>
<rect x="611.8" y="1836.8" width="26.4" height="26.4" rx="1.5" fill="#FF4A00" stroke="#111" stroke-width="2"/>
<rect x="655.2" y="1841.8" width="26.4" height="26.4" rx="1.5" fill="#FF4A00" stroke="#111" stroke-width="2"/>
<rect x="698.5" y="1826.8" width="26.4" height="26.4" rx="1.5" fill="#FF4A00" stroke="#111" stroke-width="2"/>
<rect x="741.9" y="1826.8" width="26.4" height="26.4" rx="1.5" fill="#FF4A00" stroke="#111" stroke-width="2"/>
<rect x="785.3" y="1821.8" width="26.4" height="26.4" rx="1.5" fill="#FF4A00" stroke="#111" stroke-width="2"/>
<rect x="828.6" y="1810.8" width="26.4" height="26.4" rx="1.5" fill="#FF4A00" stroke="#111" stroke-width="2"/>
<rect x="872.0" y="1816.8" width="26.4" height="26.4" rx="1.5" fill="#FF4A00" stroke="#111" stroke-width="2"/>
<rect x="915.4" y="1802.8" width="26.4" height="26.4" rx="1.5" fill="#FF4A00" stroke="#111" stroke-width="2"/>
<rect x="958.7" y="1802.8" width="26.4" height="26.4" rx="1.5" fill="#FF4A00" stroke="#111" stroke-width="2"/>
<rect x="1002.1" y="1816.8" width="26.4" height="26.4" rx="1.5" fill="#FF4A00" stroke="#111" stroke-width="2"/>
<rect x="178.1" y="1831.8" width="26.4" height="26.4" rx="1.5" fill="#45C0F5" stroke="#111" stroke-width="2"/>
<rect x="221.5" y="1811.8" width="26.4" height="26.4" rx="1.5" fill="#45C0F5" stroke="#111" stroke-width="2"/>
<rect x="264.8" y="1800.8" width="26.4" height="26.4" rx="1.5" fill="#45C0F5" stroke="#111" stroke-width="2"/>
<rect x="286.5" y="1766.8" width="26.4" height="26.4" rx="1.5" fill="#45C0F5" stroke="#111" stroke-width="2"/>
<rect x="308.2" y="1776.8" width="26.4" height="26.4" rx="1.5" fill="#45C0F5" stroke="#111" stroke-width="2"/>
<rect x="329.9" y="1778.8" width="26.4" height="26.4" rx="1.5" fill="#45C0F5" stroke="#111" stroke-width="2"/>
<rect x="351.6" y="1816.8" width="26.4" height="26.4" rx="1.5" fill="#45C0F5" stroke="#111" stroke-width="2"/>
<rect x="373.2" y="1811.8" width="26.4" height="26.4" rx="1.5" fill="#45C0F5" stroke="#111" stroke-width="2"/>
<rect x="394.9" y="1831.8" width="26.4" height="26.4" rx="1.5" fill="#45C0F5" stroke="#111" stroke-width="2"/>
<rect x="438.3" y="1841.8" width="26.4" height="26.4" rx="1.5" fill="#45C0F5" stroke="#111" stroke-width="2"/>
<rect x="481.7" y="1836.8" width="26.4" height="26.4" rx="1.5" fill="#45C0F5" stroke="#111" stroke-width="2"/>
<rect x="525.0" y="1812.8" width="26.4" height="26.4" rx="1.5" fill="#45C0F5" stroke="#111" stroke-width="2"/>
<rect x="568.4" y="1836.8" width="26.4" height="26.4" rx="1.5" fill="#45C0F5" stroke="#111" stroke-width="2"/>
<rect x="611.8" y="1834.8" width="26.4" height="26.4" rx="1.5" fill="#45C0F5" stroke="#111" stroke-width="2"/>
<rect x="655.2" y="1848.8" width="26.4" height="26.4" rx="1.5" fill="#45C0F5" stroke="#111" stroke-width="2"/>
<rect x="698.5" y="1841.8" width="26.4" height="26.4" rx="1.5" fill="#45C0F5" stroke="#111" stroke-width="2"/>
<rect x="741.9" y="1849.6" width="26.4" height="26.4" rx="1.5" fill="#45C0F5" stroke="#111" stroke-width="2"/>
<rect x="785.3" y="1857.8" width="26.4" height="26.4" rx="1.5" fill="#45C0F5" stroke="#111" stroke-width="2"/>
<rect x="828.6" y="1855.8" width="26.4" height="26.4" rx="1.5" fill="#45C0F5" stroke="#111" stroke-width="2"/>
<rect x="872.0" y="1857.8" width="26.4" height="26.4" rx="1.5" fill="#45C0F5" stroke="#111" stroke-width="2"/>
<rect x="915.4" y="1852.4" width="26.4" height="26.4" rx="1.5" fill="#45C0F5" stroke="#111" stroke-width="2"/>
<rect x="958.7" y="1856.5" width="26.4" height="26.4" rx="1.5" fill="#45C0F5" stroke="#111" stroke-width="2"/>
<rect x="1002.1" y="1852.4" width="26.4" height="26.4" rx="1.5" fill="#45C0F5" stroke="#111" stroke-width="2"/>
<path d="M191.3 1796.0L207.8 1811.5L191.3 1827.0L174.8 1811.5Z" fill="#4A7BEA" stroke="#111" stroke-width="2"/>
<path d="M234.7 1773.5L251.2 1789.0L234.7 1804.5L218.2 1789.0Z" fill="#4A7BEA" stroke="#111" stroke-width="2"/>
<path d="M278.0 1774.5L294.5 1790.0L278.0 1805.5L261.5 1790.0Z" fill="#4A7BEA" stroke="#111" stroke-width="2"/>
<path d="M299.7 1745.5L316.2 1761.0L299.7 1776.5L283.2 1761.0Z" fill="#4A7BEA" stroke="#111" stroke-width="2"/>
<path d="M321.4 1744.0L337.9 1759.5L321.4 1775.0L304.9 1759.5Z" fill="#4A7BEA" stroke="#111" stroke-width="2"/>
<path d="M343.1 1763.5L359.6 1779.0L343.1 1794.5L326.6 1779.0Z" fill="#4A7BEA" stroke="#111" stroke-width="2"/>
<path d="M364.8 1789.5L381.3 1805.0L364.8 1820.5L348.3 1805.0Z" fill="#4A7BEA" stroke="#111" stroke-width="2"/>
<path d="M386.4 1781.5L402.9 1797.0L386.4 1812.5L369.9 1797.0Z" fill="#4A7BEA" stroke="#111" stroke-width="2"/>
<path d="M408.1 1797.5L424.6 1813.0L408.1 1828.5L391.6 1813.0Z" fill="#4A7BEA" stroke="#111" stroke-width="2"/>
<path d="M451.5 1806.5L468.0 1822.0L451.5 1837.5L435.0 1822.0Z" fill="#4A7BEA" stroke="#111" stroke-width="2"/>
<path d="M494.9 1799.5L511.4 1815.0L494.9 1830.5L478.4 1815.0Z" fill="#4A7BEA" stroke="#111" stroke-width="2"/>
<path d="M538.2 1799.5L554.7 1815.0L538.2 1830.5L521.7 1815.0Z" fill="#4A7BEA" stroke="#111" stroke-width="2"/>
<path d="M581.6 1811.5L598.1 1827.0L581.6 1842.5L565.1 1827.0Z" fill="#4A7BEA" stroke="#111" stroke-width="2"/>
<path d="M625.0 1814.5L641.5 1830.0L625.0 1845.5L608.5 1830.0Z" fill="#4A7BEA" stroke="#111" stroke-width="2"/>
<path d="M668.4 1824.5L684.9 1840.0L668.4 1855.5L651.9 1840.0Z" fill="#4A7BEA" stroke="#111" stroke-width="2"/>
<path d="M711.7 1811.5L728.2 1827.0L711.7 1842.5L695.2 1827.0Z" fill="#4A7BEA" stroke="#111" stroke-width="2"/>
<path d="M755.1 1804.9L771.6 1820.4L755.1 1835.9L738.6 1820.4Z" fill="#4A7BEA" stroke="#111" stroke-width="2"/>
<path d="M798.5 1829.5L815.0 1845.0L798.5 1860.5L782.0 1845.0Z" fill="#4A7BEA" stroke="#111" stroke-width="2"/>
<path d="M841.8 1834.5L858.3 1850.0L841.8 1865.5L825.3 1850.0Z" fill="#4A7BEA" stroke="#111" stroke-width="2"/>
<path d="M885.2 1834.5L901.7 1850.0L885.2 1865.5L868.7 1850.0Z" fill="#4A7BEA" stroke="#111" stroke-width="2"/>
<path d="M928.6 1824.5L945.1 1840.0L928.6 1855.5L912.1 1840.0Z" fill="#4A7BEA" stroke="#111" stroke-width="2"/>
<path d="M971.9 1824.5L988.4 1840.0L971.9 1855.5L955.4 1840.0Z" fill="#4A7BEA" stroke="#111" stroke-width="2"/>
<path d="M1015.3 1824.5L1031.8 1840.0L1015.3 1855.5L998.8 1840.0Z" fill="#4A7BEA" stroke="#111" stroke-width="2"/>
<circle cx="191.3" cy="1835.0" r="13.3" fill="#3D64D6" stroke="#111" stroke-width="2"/>
<circle cx="234.7" cy="1820.0" r="13.3" fill="#3D64D6" stroke="#111" stroke-width="2"/>
<circle cx="278.0" cy="1805.0" r="13.3" fill="#3D64D6" stroke="#111" stroke-width="2"/>
<circle cx="299.7" cy="1777.5" r="13.3" fill="#3D64D6" stroke="#111" stroke-width="2"/>
<circle cx="321.4" cy="1785.0" r="13.3" fill="#3D64D6" stroke="#111" stroke-width="2"/>
<circle cx="343.1" cy="1814.3" r="13.3" fill="#3D64D6" stroke="#111" stroke-width="2"/>
<circle cx="364.8" cy="1839.0" r="13.3" fill="#3D64D6" stroke="#111" stroke-width="2"/>
<circle cx="386.4" cy="1822.4" r="13.3" fill="#3D64D6" stroke="#111" stroke-width="2"/>
<circle cx="408.1" cy="1840.0" r="13.3" fill="#3D64D6" stroke="#111" stroke-width="2"/>
<circle cx="451.5" cy="1845.0" r="13.3" fill="#3D64D6" stroke="#111" stroke-width="2"/>
<circle cx="494.9" cy="1808.0" r="13.3" fill="#3D64D6" stroke="#111" stroke-width="2"/>
<circle cx="538.2" cy="1819.0" r="13.3" fill="#3D64D6" stroke="#111" stroke-width="2"/>
<circle cx="581.6" cy="1848.0" r="13.3" fill="#3D64D6" stroke="#111" stroke-width="2"/>
<circle cx="625.0" cy="1850.0" r="13.3" fill="#3D64D6" stroke="#111" stroke-width="2"/>
<circle cx="668.4" cy="1845.0" r="13.3" fill="#3D64D6" stroke="#111" stroke-width="2"/>
<circle cx="711.7" cy="1840.0" r="13.3" fill="#3D64D6" stroke="#111" stroke-width="2"/>
<circle cx="755.1" cy="1832.0" r="13.3" fill="#3D64D6" stroke="#111" stroke-width="2"/>
<circle cx="798.5" cy="1845.0" r="13.3" fill="#3D64D6" stroke="#111" stroke-width="2"/>
<circle cx="841.8" cy="1850.0" r="13.3" fill="#3D64D6" stroke="#111" stroke-width="2"/>
<circle cx="885.2" cy="1853.0" r="13.3" fill="#3D64D6" stroke="#111" stroke-width="2"/>
<circle cx="928.6" cy="1830.4" r="13.3" fill="#3D64D6" stroke="#111" stroke-width="2"/>
<circle cx="971.9" cy="1835.6" r="13.3" fill="#3D64D6" stroke="#111" stroke-width="2"/>
<circle cx="1015.3" cy="1787.0" r="13.3" fill="#3D64D6" stroke="#111" stroke-width="2"/>
<path d="M181.3 1830.0L201.3 1850.0M201.3 1830.0L181.3 1850.0" stroke="#111" stroke-width="6" stroke-linecap="square"/><path d="M181.3 1830.0L201.3 1850.0M201.3 1830.0L181.3 1850.0" stroke="#A8A8A8" stroke-width="3" stroke-linecap="square"/>
<path d="M224.7 1820.0L244.7 1840.0M244.7 1820.0L224.7 1840.0" stroke="#111" stroke-width="6" stroke-linecap="square"/><path d="M224.7 1820.0L244.7 1840.0M244.7 1820.0L224.7 1840.0" stroke="#A8A8A8" stroke-width="3" stroke-linecap="square"/>
<path d="M268.0 1808.0L288.0 1828.0M288.0 1808.0L268.0 1828.0" stroke="#111" stroke-width="6" stroke-linecap="square"/><path d="M268.0 1808.0L288.0 1828.0M288.0 1808.0L268.0 1828.0" stroke="#A8A8A8" stroke-width="3" stroke-linecap="square"/>
<path d="M289.7 1804.4L309.7 1824.4M309.7 1804.4L289.7 1824.4" stroke="#111" stroke-width="6" stroke-linecap="square"/><path d="M289.7 1804.4L309.7 1824.4M309.7 1804.4L289.7 1824.4" stroke="#A8A8A8" stroke-width="3" stroke-linecap="square"/>
<path d="M311.4 1804.4L331.4 1824.4M331.4 1804.4L311.4 1824.4" stroke="#111" stroke-width="6" stroke-linecap="square"/><path d="M311.4 1804.4L331.4 1824.4M331.4 1804.4L311.4 1824.4" stroke="#A8A8A8" stroke-width="3" stroke-linecap="square"/>
<path d="M333.1 1804.0L353.1 1824.0M353.1 1804.0L333.1 1824.0" stroke="#111" stroke-width="6" stroke-linecap="square"/><path d="M333.1 1804.0L353.1 1824.0M353.1 1804.0L333.1 1824.0" stroke="#A8A8A8" stroke-width="3" stroke-linecap="square"/>
<path d="M354.8 1806.0L374.8 1826.0M374.8 1806.0L354.8 1826.0" stroke="#111" stroke-width="6" stroke-linecap="square"/><path d="M354.8 1806.0L374.8 1826.0M374.8 1806.0L354.8 1826.0" stroke="#A8A8A8" stroke-width="3" stroke-linecap="square"/>
<path d="M376.4 1825.0L396.4 1845.0M396.4 1825.0L376.4 1845.0" stroke="#111" stroke-width="6" stroke-linecap="square"/><path d="M376.4 1825.0L396.4 1845.0M396.4 1825.0L376.4 1845.0" stroke="#A8A8A8" stroke-width="3" stroke-linecap="square"/>
<path d="M398.1 1840.0L418.1 1860.0M418.1 1840.0L398.1 1860.0" stroke="#111" stroke-width="6" stroke-linecap="square"/><path d="M398.1 1840.0L418.1 1860.0M418.1 1840.0L398.1 1860.0" stroke="#A8A8A8" stroke-width="3" stroke-linecap="square"/>
<path d="M441.5 1845.0L461.5 1865.0M461.5 1845.0L441.5 1865.0" stroke="#111" stroke-width="6" stroke-linecap="square"/><path d="M441.5 1845.0L461.5 1865.0M461.5 1845.0L441.5 1865.0" stroke="#A8A8A8" stroke-width="3" stroke-linecap="square"/>
<path d="M484.9 1850.0L504.9 1870.0M504.9 1850.0L484.9 1870.0" stroke="#111" stroke-width="6" stroke-linecap="square"/><path d="M484.9 1850.0L504.9 1870.0M504.9 1850.0L484.9 1870.0" stroke="#A8A8A8" stroke-width="3" stroke-linecap="square"/>
<path d="M528.2 1836.3L548.2 1856.3M548.2 1836.3L528.2 1856.3" stroke="#111" stroke-width="6" stroke-linecap="square"/><path d="M528.2 1836.3L548.2 1856.3M548.2 1836.3L528.2 1856.3" stroke="#A8A8A8" stroke-width="3" stroke-linecap="square"/>
<path d="M571.6 1835.0L591.6 1855.0M591.6 1835.0L571.6 1855.0" stroke="#111" stroke-width="6" stroke-linecap="square"/><path d="M571.6 1835.0L591.6 1855.0M591.6 1835.0L571.6 1855.0" stroke="#A8A8A8" stroke-width="3" stroke-linecap="square"/>
<path d="M615.0 1845.0L635.0 1865.0M635.0 1845.0L615.0 1865.0" stroke="#111" stroke-width="6" stroke-linecap="square"/><path d="M615.0 1845.0L635.0 1865.0M635.0 1845.0L615.0 1865.0" stroke="#A8A8A8" stroke-width="3" stroke-linecap="square"/>
<path d="M658.4 1850.0L678.4 1870.0M678.4 1850.0L658.4 1870.0" stroke="#111" stroke-width="6" stroke-linecap="square"/><path d="M658.4 1850.0L678.4 1870.0M678.4 1850.0L658.4 1870.0" stroke="#A8A8A8" stroke-width="3" stroke-linecap="square"/>
<path d="M701.7 1840.0L721.7 1860.0M721.7 1840.0L701.7 1860.0" stroke="#111" stroke-width="6" stroke-linecap="square"/><path d="M701.7 1840.0L721.7 1860.0M721.7 1840.0L701.7 1860.0" stroke="#A8A8A8" stroke-width="3" stroke-linecap="square"/>
<path d="M745.1 1850.0L765.1 1870.0M765.1 1850.0L745.1 1870.0" stroke="#111" stroke-width="6" stroke-linecap="square"/><path d="M745.1 1850.0L765.1 1870.0M765.1 1850.0L745.1 1870.0" stroke="#A8A8A8" stroke-width="3" stroke-linecap="square"/>
<path d="M788.5 1855.0L808.5 1875.0M808.5 1855.0L788.5 1875.0" stroke="#111" stroke-width="6" stroke-linecap="square"/><path d="M788.5 1855.0L808.5 1875.0M808.5 1855.0L788.5 1875.0" stroke="#A8A8A8" stroke-width="3" stroke-linecap="square"/>
<path d="M831.8 1855.0L851.8 1875.0M851.8 1855.0L831.8 1875.0" stroke="#111" stroke-width="6" stroke-linecap="square"/><path d="M831.8 1855.0L851.8 1875.0M851.8 1855.0L831.8 1875.0" stroke="#A8A8A8" stroke-width="3" stroke-linecap="square"/>
<path d="M875.2 1863.8L895.2 1883.8M895.2 1863.8L875.2 1883.8" stroke="#111" stroke-width="6" stroke-linecap="square"/><path d="M875.2 1863.8L895.2 1883.8M895.2 1863.8L875.2 1883.8" stroke="#A8A8A8" stroke-width="3" stroke-linecap="square"/>
<path d="M918.6 1861.8L938.6 1881.8M938.6 1861.8L918.6 1881.8" stroke="#111" stroke-width="6" stroke-linecap="square"/><path d="M918.6 1861.8L938.6 1881.8M938.6 1861.8L918.6 1881.8" stroke="#A8A8A8" stroke-width="3" stroke-linecap="square"/>
<path d="M961.9 1860.0L981.9 1880.0M981.9 1860.0L961.9 1880.0" stroke="#111" stroke-width="6" stroke-linecap="square"/><path d="M961.9 1860.0L981.9 1880.0M981.9 1860.0L961.9 1880.0" stroke="#A8A8A8" stroke-width="3" stroke-linecap="square"/>
<path d="M1005.3 1855.0L1025.3 1875.0M1025.3 1855.0L1005.3 1875.0" stroke="#111" stroke-width="6" stroke-linecap="square"/><path d="M1005.3 1855.0L1025.3 1875.0M1025.3 1855.0L1005.3 1875.0" stroke="#A8A8A8" stroke-width="3" stroke-linecap="square"/>
<path d="M191.3 1829.5L207.8 1845.0L191.3 1860.5L174.8 1845.0Z" fill="#F54400" stroke="#111" stroke-width="2"/>
<path d="M234.7 1816.5L251.2 1832.0L234.7 1847.5L218.2 1832.0Z" fill="#F54400" stroke="#111" stroke-width="2"/>
<path d="M278.0 1798.5L294.5 1814.0L278.0 1829.5L261.5 1814.0Z" fill="#F54400" stroke="#111" stroke-width="2"/>
<path d="M299.7 1724.5L316.2 1740.0L299.7 1755.5L283.2 1740.0Z" fill="#F54400" stroke="#111" stroke-width="2"/>
<path d="M321.4 1606.5L337.9 1622.0L321.4 1637.5L304.9 1622.0Z" fill="#F54400" stroke="#111" stroke-width="2"/>
<path d="M343.1 1629.5L359.6 1645.0L343.1 1660.5L326.6 1645.0Z" fill="#F54400" stroke="#111" stroke-width="2"/>
<path d="M364.8 1770.0L381.3 1785.5L364.8 1801.0L348.3 1785.5Z" fill="#F54400" stroke="#111" stroke-width="2"/>
<path d="M386.4 1832.5L402.9 1848.0L386.4 1863.5L369.9 1848.0Z" fill="#F54400" stroke="#111" stroke-width="2"/>
<path d="M408.1 1850.0L424.6 1865.5L408.1 1881.0L391.6 1865.5Z" fill="#F54400" stroke="#111" stroke-width="2"/>
<path d="M451.5 1850.0L468.0 1865.5L451.5 1881.0L435.0 1865.5Z" fill="#F54400" stroke="#111" stroke-width="2"/>
<path d="M494.9 1845.2L511.4 1860.7L494.9 1876.2L478.4 1860.7Z" fill="#F54400" stroke="#111" stroke-width="2"/>
<path d="M538.2 1790.9L554.7 1806.4L538.2 1821.9L521.7 1806.4Z" fill="#F54400" stroke="#111" stroke-width="2"/>
<path d="M581.6 1767.7L598.1 1783.2L581.6 1798.7L565.1 1783.2Z" fill="#F54400" stroke="#111" stroke-width="2"/>
<path d="M625.0 1841.5L641.5 1857.0L625.0 1872.5L608.5 1857.0Z" fill="#F54400" stroke="#111" stroke-width="2"/>
<path d="M668.4 1844.5L684.9 1860.0L668.4 1875.5L651.9 1860.0Z" fill="#F54400" stroke="#111" stroke-width="2"/>
<path d="M711.7 1834.5L728.2 1850.0L711.7 1865.5L695.2 1850.0Z" fill="#F54400" stroke="#111" stroke-width="2"/>
<path d="M755.1 1830.7L771.6 1846.2L755.1 1861.7L738.6 1846.2Z" fill="#F54400" stroke="#111" stroke-width="2"/>
<path d="M798.5 1845.2L815.0 1860.7L798.5 1876.2L782.0 1860.7Z" fill="#F54400" stroke="#111" stroke-width="2"/>
<path d="M841.8 1838.7L858.3 1854.2L841.8 1869.7L825.3 1854.2Z" fill="#F54400" stroke="#111" stroke-width="2"/>
<path d="M885.2 1827.3L901.7 1842.8L885.2 1858.3L868.7 1842.8Z" fill="#F54400" stroke="#111" stroke-width="2"/>
<path d="M928.6 1833.5L945.1 1849.0L928.6 1864.5L912.1 1849.0Z" fill="#F54400" stroke="#111" stroke-width="2"/>
<path d="M971.9 1839.7L988.4 1855.2L971.9 1870.7L955.4 1855.2Z" fill="#F54400" stroke="#111" stroke-width="2"/>
<path d="M1015.3 1826.5L1031.8 1842.0L1015.3 1857.5L998.8 1842.0Z" fill="#F54400" stroke="#111" stroke-width="2"/>
<path d="M191.3 1826.5L205.8 1850.5L176.8 1850.5Z" fill="#2E4DA8" stroke="#111" stroke-width="2" stroke-linejoin="miter"/>
<path d="M234.7 1802.9L249.2 1826.9L220.2 1826.9Z" fill="#2E4DA8" stroke="#111" stroke-width="2" stroke-linejoin="miter"/>
<path d="M278.0 1783.5L292.5 1807.5L263.5 1807.5Z" fill="#2E4DA8" stroke="#111" stroke-width="2" stroke-linejoin="miter"/>
<path d="M299.7 1738.5L314.2 1762.5L285.2 1762.5Z" fill="#2E4DA8" stroke="#111" stroke-width="2" stroke-linejoin="miter"/>
<path d="M321.4 1646.5L335.9 1670.5L306.9 1670.5Z" fill="#2E4DA8" stroke="#111" stroke-width="2" stroke-linejoin="miter"/>
<path d="M343.1 1690.5L357.6 1714.5L328.6 1714.5Z" fill="#2E4DA8" stroke="#111" stroke-width="2" stroke-linejoin="miter"/>
<path d="M364.8 1789.8L379.3 1813.8L350.3 1813.8Z" fill="#2E4DA8" stroke="#111" stroke-width="2" stroke-linejoin="miter"/>
<path d="M386.4 1823.5L400.9 1847.5L371.9 1847.5Z" fill="#2E4DA8" stroke="#111" stroke-width="2" stroke-linejoin="miter"/>
<path d="M408.1 1834.8L422.6 1858.8L393.6 1858.8Z" fill="#2E4DA8" stroke="#111" stroke-width="2" stroke-linejoin="miter"/>
<path d="M451.5 1810.5L466.0 1834.5L437.0 1834.5Z" fill="#2E4DA8" stroke="#111" stroke-width="2" stroke-linejoin="miter"/>
<path d="M494.9 1775.5L509.4 1799.5L480.4 1799.5Z" fill="#2E4DA8" stroke="#111" stroke-width="2" stroke-linejoin="miter"/>
<path d="M538.2 1711.0L552.7 1735.0L523.7 1735.0Z" fill="#2E4DA8" stroke="#111" stroke-width="2" stroke-linejoin="miter"/>
<path d="M581.6 1798.5L596.1 1822.5L567.1 1822.5Z" fill="#2E4DA8" stroke="#111" stroke-width="2" stroke-linejoin="miter"/>
<path d="M625.0 1823.5L639.5 1847.5L610.5 1847.5Z" fill="#2E4DA8" stroke="#111" stroke-width="2" stroke-linejoin="miter"/>
<path d="M668.4 1810.9L682.9 1834.9L653.9 1834.9Z" fill="#2E4DA8" stroke="#111" stroke-width="2" stroke-linejoin="miter"/>
<path d="M711.7 1788.2L726.2 1812.2L697.2 1812.2Z" fill="#2E4DA8" stroke="#111" stroke-width="2" stroke-linejoin="miter"/>
<path d="M755.1 1774.7L769.6 1798.7L740.6 1798.7Z" fill="#2E4DA8" stroke="#111" stroke-width="2" stroke-linejoin="miter"/>
<path d="M798.5 1818.6L813.0 1842.6L784.0 1842.6Z" fill="#2E4DA8" stroke="#111" stroke-width="2" stroke-linejoin="miter"/>
<path d="M841.8 1823.5L856.3 1847.5L827.3 1847.5Z" fill="#2E4DA8" stroke="#111" stroke-width="2" stroke-linejoin="miter"/>
<path d="M885.2 1808.9L899.7 1832.9L870.7 1832.9Z" fill="#2E4DA8" stroke="#111" stroke-width="2" stroke-linejoin="miter"/>
<path d="M928.6 1788.3L943.1 1812.3L914.1 1812.3Z" fill="#2E4DA8" stroke="#111" stroke-width="2" stroke-linejoin="miter"/>
<path d="M971.9 1809.5L986.4 1833.5L957.4 1833.5Z" fill="#2E4DA8" stroke="#111" stroke-width="2" stroke-linejoin="miter"/>
<path d="M1015.3 1811.0L1029.8 1835.0L1000.8 1835.0Z" fill="#2E4DA8" stroke="#111" stroke-width="2" stroke-linejoin="miter"/>
<circle cx="191.3" cy="1846.0" r="13.3" fill="#D43A00" stroke="#111" stroke-width="2"/>
<circle cx="234.7" cy="1834.3" r="13.3" fill="#D43A00" stroke="#111" stroke-width="2"/>
<circle cx="278.0" cy="1814.4" r="13.3" fill="#D43A00" stroke="#111" stroke-width="2"/>
<circle cx="299.7" cy="1746.4" r="13.3" fill="#D43A00" stroke="#111" stroke-width="2"/>
<circle cx="321.4" cy="1575.0" r="13.3" fill="#D43A00" stroke="#111" stroke-width="2"/>
<circle cx="343.1" cy="1395.7" r="13.3" fill="#D43A00" stroke="#111" stroke-width="2"/>
<circle cx="364.8" cy="1588.8" r="13.3" fill="#D43A00" stroke="#111" stroke-width="2"/>
<circle cx="386.4" cy="1759.2" r="13.3" fill="#D43A00" stroke="#111" stroke-width="2"/>
<circle cx="408.1" cy="1830.3" r="13.3" fill="#D43A00" stroke="#111" stroke-width="2"/>
<circle cx="451.5" cy="1841.5" r="13.3" fill="#D43A00" stroke="#111" stroke-width="2"/>
<circle cx="494.9" cy="1838.3" r="13.3" fill="#D43A00" stroke="#111" stroke-width="2"/>
<circle cx="538.2" cy="1793.6" r="13.3" fill="#D43A00" stroke="#111" stroke-width="2"/>
<circle cx="581.6" cy="1788.8" r="13.3" fill="#D43A00" stroke="#111" stroke-width="2"/>
<circle cx="625.0" cy="1845.0" r="13.3" fill="#D43A00" stroke="#111" stroke-width="2"/>
<circle cx="668.4" cy="1858.7" r="13.3" fill="#D43A00" stroke="#111" stroke-width="2"/>
<circle cx="711.7" cy="1848.3" r="13.3" fill="#D43A00" stroke="#111" stroke-width="2"/>
<circle cx="755.1" cy="1800.7" r="13.3" fill="#D43A00" stroke="#111" stroke-width="2"/>
<circle cx="798.5" cy="1797.6" r="13.3" fill="#D43A00" stroke="#111" stroke-width="2"/>
<circle cx="841.8" cy="1840.7" r="13.3" fill="#D43A00" stroke="#111" stroke-width="2"/>
<circle cx="885.2" cy="1799.3" r="13.3" fill="#D43A00" stroke="#111" stroke-width="2"/>
<circle cx="928.6" cy="1727.9" r="13.3" fill="#D43A00" stroke="#111" stroke-width="2"/>
<circle cx="971.9" cy="1776.6" r="13.3" fill="#D43A00" stroke="#111" stroke-width="2"/>
<circle cx="1015.3" cy="1848.0" r="13.3" fill="#D43A00" stroke="#111" stroke-width="2"/>
<rect x="169.6" y="1268" width="867.4" height="608.2" fill="none" stroke="#000" stroke-width="2.6"/>
<line x1="160.1" y1="1876.2" x2="169.6" y2="1876.2" stroke="#000" stroke-width="2.5"/>
<text x="143.3" y="1889.2" font-family="Liberation Sans, sans-serif" stroke="#000" stroke-width="0.45" font-size="35.5" text-anchor="end">0</text>
<line x1="160.1" y1="1797.5" x2="169.6" y2="1797.5" stroke="#000" stroke-width="2.5"/>
<text x="143.3" y="1810.5" font-family="Liberation Sans, sans-serif" stroke="#000" stroke-width="0.45" font-size="35.5" text-anchor="end">2</text>
<line x1="160.1" y1="1718.8" x2="169.6" y2="1718.8" stroke="#000" stroke-width="2.5"/>
<text x="143.3" y="1731.8" font-family="Liberation Sans, sans-serif" stroke="#000" stroke-width="0.45" font-size="35.5" text-anchor="end">4</text>
<line x1="160.1" y1="1640.2" x2="169.6" y2="1640.2" stroke="#000" stroke-width="2.5"/>
<text x="143.3" y="1653.2" font-family="Liberation Sans, sans-serif" stroke="#000" stroke-width="0.45" font-size="35.5" text-anchor="end">6</text>
<line x1="160.1" y1="1561.5" x2="169.6" y2="1561.5" stroke="#000" stroke-width="2.5"/>
<text x="143.3" y="1574.5" font-family="Liberation Sans, sans-serif" stroke="#000" stroke-width="0.45" font-size="35.5" text-anchor="end">8</text>
<line x1="160.1" y1="1482.8" x2="169.6" y2="1482.8" stroke="#000" stroke-width="2.5"/>
<text x="143.3" y="1495.8" font-family="Liberation Sans, sans-serif" stroke="#000" stroke-width="0.45" font-size="35.5" text-anchor="end">10</text>
<line x1="160.1" y1="1404.1" x2="169.6" y2="1404.1" stroke="#000" stroke-width="2.5"/>
<text x="143.3" y="1417.1" font-family="Liberation Sans, sans-serif" stroke="#000" stroke-width="0.45" font-size="35.5" text-anchor="end">12</text>
<line x1="160.1" y1="1325.4" x2="169.6" y2="1325.4" stroke="#000" stroke-width="2.5"/>
<text x="143.3" y="1338.4" font-family="Liberation Sans, sans-serif" stroke="#000" stroke-width="0.45" font-size="35.5" text-anchor="end">14</text>
<line x1="169.6" y1="1876.2" x2="169.6" y2="1884.2" stroke="#000" stroke-width="2.5"/>
<text x="168.1" y="1934" font-family="Liberation Sans, sans-serif" stroke="#000" stroke-width="0.45" font-size="35" text-anchor="middle">0</text>
<line x1="386.4" y1="1876.2" x2="386.4" y2="1884.2" stroke="#000" stroke-width="2.5"/>
<text x="384.9" y="1934" font-family="Liberation Sans, sans-serif" stroke="#000" stroke-width="0.45" font-size="35" text-anchor="middle">10</text>
<line x1="603.3" y1="1876.2" x2="603.3" y2="1884.2" stroke="#000" stroke-width="2.5"/>
<text x="601.8" y="1934" font-family="Liberation Sans, sans-serif" stroke="#000" stroke-width="0.45" font-size="35" text-anchor="middle">20</text>
<line x1="820.1" y1="1876.2" x2="820.1" y2="1884.2" stroke="#000" stroke-width="2.5"/>
<text x="818.6" y="1934" font-family="Liberation Sans, sans-serif" stroke="#000" stroke-width="0.45" font-size="35" text-anchor="middle">30</text>
<line x1="1037.0" y1="1876.2" x2="1037.0" y2="1884.2" stroke="#000" stroke-width="2.5"/>
<text x="1035.5" y="1934" font-family="Liberation Sans, sans-serif" stroke="#000" stroke-width="0.45" font-size="35" text-anchor="middle">40</text>
<text x="183" y="1300.5" font-family="Liberation Sans, sans-serif" stroke="#000" stroke-width="0.45" font-size="30" font-weight="bold">C</text>
<text transform="translate(76.5,1837) rotate(-90) scale(0.9356,1)" font-family="Liberation Sans, sans-serif" stroke="#000" stroke-width="0.45" font-size="40" text-anchor="start">Nanophytoplankton (cells µL</text>
<text transform="translate(62,1365) rotate(-90) scale(1,1)" font-family="Liberation Sans, sans-serif" stroke="#000" stroke-width="0.45" font-size="40" text-anchor="start">-</text>
<text transform="translate(62,1351) rotate(-90) scale(0.65,1)" font-family="Liberation Sans, sans-serif" stroke="#000" stroke-width="0.45" font-size="40" text-anchor="start">1</text>
<text transform="translate(76.5,1330) rotate(-90) scale(1,1)" font-family="Liberation Sans, sans-serif" stroke="#000" stroke-width="0.45" font-size="40" text-anchor="start">)</text>
<text x="531" y="1996" font-family="Liberation Sans, sans-serif" stroke="#000" stroke-width="0.45" font-size="38" textLength="137" lengthAdjust="spacingAndGlyphs">Time (d)</text>
<rect x="647.5" y="1274.5" width="385.5" height="392" fill="#fff" stroke="#000" stroke-width="2"/>
<line x1="670.5" y1="1317.0" x2="741" y2="1317.0" stroke="#111" stroke-width="2"/>
<rect x="692.2" y="1303.7" width="26.7" height="26.7" rx="1.5" fill="#FF4A00" stroke="#111" stroke-width="2"/>
<text x="758" y="1328.0" font-family="Liberation Sans, sans-serif" stroke="#000" stroke-width="0.45" font-size="30.5">Singular low</text>
<line x1="670.5" y1="1355.5" x2="741" y2="1355.5" stroke="#111" stroke-width="2"/>
<path d="M705.5 1338.9L723.2 1355.5L705.5 1372.0L687.8 1355.5Z" fill="#F54400" stroke="#111" stroke-width="2"/>
<text x="758" y="1366.5" font-family="Liberation Sans, sans-serif" stroke="#000" stroke-width="0.45" font-size="30.5">Singular medium</text>
<line x1="670.5" y1="1393.9" x2="741" y2="1393.9" stroke="#111" stroke-width="2"/>
<circle cx="705.5" cy="1393.9" r="14.4" fill="#D43A00" stroke="#111" stroke-width="2"/>
<text x="758" y="1404.9" font-family="Liberation Sans, sans-serif" stroke="#000" stroke-width="0.45" font-size="30.5">Singular high</text>
<line x1="670.5" y1="1432.3" x2="741" y2="1432.3" stroke="#111" stroke-width="2"/>
<path d="M705.5 1420.5L720.4 1445.2L690.6 1445.2Z" fill="#922700" stroke="#111" stroke-width="2" stroke-linejoin="miter"/>
<text x="758" y="1443.3" font-family="Liberation Sans, sans-serif" stroke="#000" stroke-width="0.45" font-size="30.5">Singular extreme</text>
<line x1="670.5" y1="1470.8" x2="741" y2="1470.8" stroke="#111" stroke-width="2"/>
<rect x="692.2" y="1457.5" width="26.7" height="26.7" rx="1.5" fill="#45C0F5" stroke="#111" stroke-width="2"/>
<text x="758" y="1481.8" font-family="Liberation Sans, sans-serif" stroke="#000" stroke-width="0.45" font-size="30.5">Recurring low</text>
<line x1="670.5" y1="1509.2" x2="741" y2="1509.2" stroke="#111" stroke-width="2"/>
<path d="M705.5 1492.7L723.2 1509.2L705.5 1525.8L687.8 1509.2Z" fill="#4A7BEA" stroke="#111" stroke-width="2"/>
<text x="758" y="1520.2" font-family="Liberation Sans, sans-serif" stroke="#000" stroke-width="0.45" font-size="30.5">Recurring medium</text>
<line x1="670.5" y1="1547.7" x2="741" y2="1547.7" stroke="#111" stroke-width="2"/>
<circle cx="705.5" cy="1547.7" r="14.4" fill="#3D64D6" stroke="#111" stroke-width="2"/>
<text x="758" y="1558.7" font-family="Liberation Sans, sans-serif" stroke="#000" stroke-width="0.45" font-size="30.5">Recurring high</text>
<line x1="670.5" y1="1586.2" x2="741" y2="1586.2" stroke="#111" stroke-width="2"/>
<path d="M705.5 1574.3L720.4 1599.0L690.6 1599.0Z" fill="#2E4DA8" stroke="#111" stroke-width="2" stroke-linejoin="miter"/>
<text x="758" y="1597.2" font-family="Liberation Sans, sans-serif" stroke="#000" stroke-width="0.45" font-size="30.5">Recurring extreme</text>
<line x1="670.5" y1="1624.6" x2="741" y2="1624.6" stroke="#111" stroke-width="2"/>
<path d="M694.3 1613.4L716.7 1635.8M716.7 1613.4L694.3 1635.8" stroke="#111" stroke-width="6" stroke-linecap="square"/><path d="M694.3 1613.4L716.7 1635.8M716.7 1613.4L694.3 1635.8" stroke="#A8A8A8" stroke-width="3" stroke-linecap="square"/>
<text x="758" y="1635.6" font-family="Liberation Sans, sans-serif" stroke="#000" stroke-width="0.45" font-size="30.5">Control</text>
</svg></body></html>
